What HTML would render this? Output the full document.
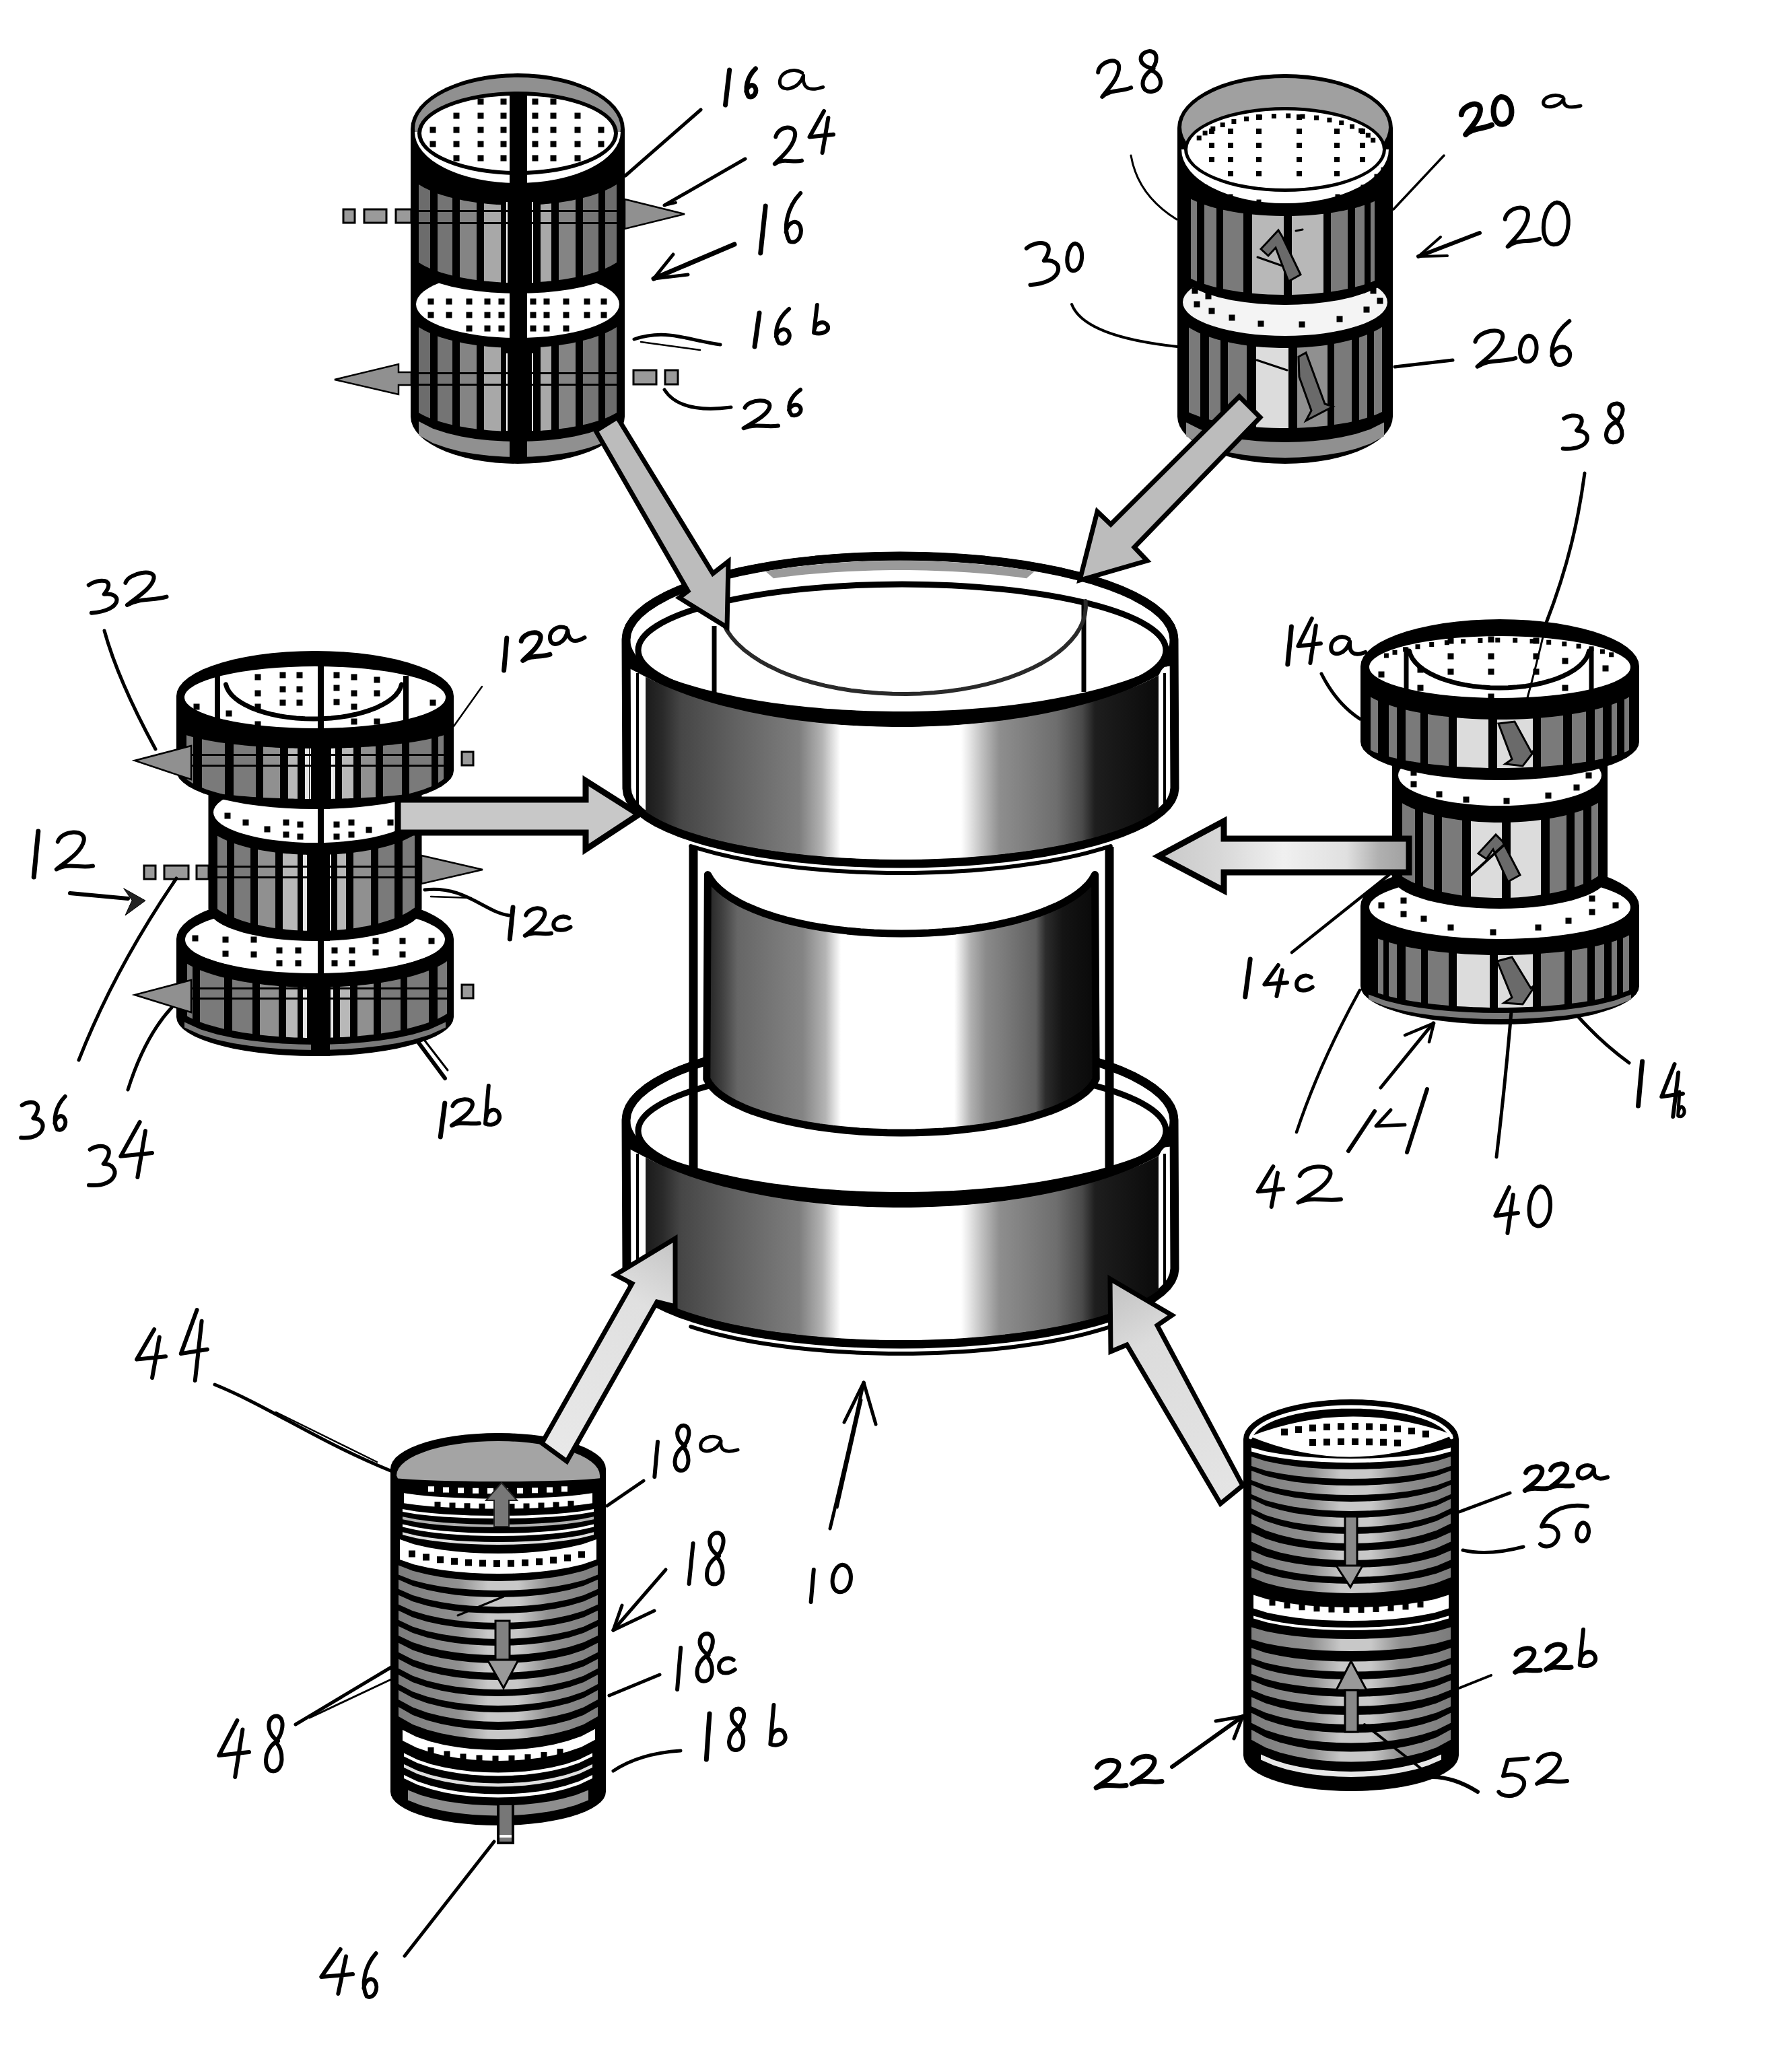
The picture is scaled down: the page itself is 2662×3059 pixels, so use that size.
<!DOCTYPE html>
<html><head><meta charset="utf-8"><title>Figure</title>
<style>html,body{margin:0;padding:0;background:#fff;font-family:"Liberation Sans",sans-serif}svg{display:block}</style></head><body>
<svg width="2662" height="3059" viewBox="0 0 2662 3059">
<defs>
<linearGradient id="gband" gradientUnits="userSpaceOnUse" x1="958" y1="0" x2="1722" y2="0"><stop offset="0.0000" stop-color="#1a1a1a"/><stop offset="0.0350" stop-color="#2a2a2a"/><stop offset="0.0700" stop-color="#464646"/><stop offset="0.1800" stop-color="#626262"/><stop offset="0.3000" stop-color="#7e7e7e"/><stop offset="0.3450" stop-color="#b4b4b4"/><stop offset="0.3800" stop-color="#ffffff"/><stop offset="0.6150" stop-color="#ffffff"/><stop offset="0.6550" stop-color="#c0c0c0"/><stop offset="0.6900" stop-color="#8e8e8e"/><stop offset="0.8000" stop-color="#6e6e6e"/><stop offset="0.8500" stop-color="#4a4a4a"/><stop offset="0.8750" stop-color="#1e1e1e"/><stop offset="1.0000" stop-color="#0a0a0a"/></linearGradient>
<linearGradient id="gmid" gradientUnits="userSpaceOnUse" x1="1056" y1="0" x2="1624" y2="0"><stop offset="0.0000" stop-color="#2a2a2a"/><stop offset="0.0300" stop-color="#404040"/><stop offset="0.0700" stop-color="#666666"/><stop offset="0.2400" stop-color="#848484"/><stop offset="0.3000" stop-color="#b4b4b4"/><stop offset="0.3400" stop-color="#ffffff"/><stop offset="0.6370" stop-color="#ffffff"/><stop offset="0.6800" stop-color="#b0b0b0"/><stop offset="0.7200" stop-color="#8a8a8a"/><stop offset="0.8500" stop-color="#606060"/><stop offset="0.8750" stop-color="#2c2c2c"/><stop offset="0.9200" stop-color="#141414"/><stop offset="1.0000" stop-color="#0a0a0a"/></linearGradient>
<clipPath id="bc1"><path d="M617 192 L617.8 183.3 L620.3 174.7 L624.4 166.4 L630.1 158.2 L637.4 150.5 L646 143.2 L656 136.5 L667.3 130.3 L679.7 124.9 L693 120.1 L707.2 116.2 L722 113.1 L737.4 110.8 L753.1 109.5 L769 109 L784.9 109.5 L800.6 110.8 L816 113.1 L830.8 116.2 L845 120.1 L858.3 124.9 L870.7 130.3 L882 136.5 L892 143.2 L900.6 150.5 L907.9 158.2 L913.6 166.4 L917.7 174.7 L920.2 183.3 L921 192 L921 617 L920.2 623.7 L917.7 630.3 L913.6 636.8 L907.9 643 L900.6 649 L892 654.6 L882 659.8 L870.7 664.6 L858.3 668.8 L845 672.4 L830.8 675.5 L816 677.9 L800.6 679.6 L784.9 680.6 L769 681 L753.1 680.6 L737.4 679.6 L722 677.9 L707.2 675.5 L693 672.4 L679.7 668.8 L667.3 664.6 L656 659.8 L646 654.6 L637.4 649 L630.1 643 L624.4 636.8 L620.3 630.3 L617.8 623.7 L617 617Z"/></clipPath>
<clipPath id="c16low"><rect x="600" y="196" width="340" height="100"/></clipPath>
<clipPath id="bc2"><path d="M1756 190 L1756.8 181.6 L1759.3 173.4 L1763.5 165.3 L1769.2 157.5 L1776.5 150 L1785.2 143 L1795.3 136.5 L1806.6 130.5 L1819.1 125.3 L1832.5 120.7 L1846.8 116.9 L1861.7 113.9 L1877.2 111.7 L1893 110.4 L1909 110 L1925 110.4 L1940.8 111.7 L1956.3 113.9 L1971.2 116.9 L1985.5 120.7 L1998.9 125.3 L2011.4 130.5 L2022.7 136.5 L2032.8 143 L2041.5 150 L2048.8 157.5 L2054.5 165.3 L2058.7 173.4 L2061.2 181.6 L2062 190 L2062 617 L2061.2 623.7 L2058.7 630.3 L2054.5 636.8 L2048.8 643 L2041.5 649 L2032.8 654.6 L2022.7 659.8 L2011.4 664.6 L1998.9 668.8 L1985.5 672.4 L1971.2 675.5 L1956.3 677.9 L1940.8 679.6 L1925 680.6 L1909 681 L1893 680.6 L1877.2 679.6 L1861.7 677.9 L1846.8 675.5 L1832.5 672.4 L1819.1 668.8 L1806.6 664.6 L1795.3 659.8 L1785.2 654.6 L1776.5 649 L1769.2 643 L1763.5 636.8 L1759.3 630.3 L1756.8 623.7 L1756 617Z"/></clipPath>
<clipPath id="c20low"><rect x="1740" y="222" width="340" height="100"/></clipPath>
<clipPath id="bc3"><path d="M269 1395 L270.1 1387.9 L273.3 1380.9 L278.7 1374 L286.2 1367.3 L295.7 1361 L307 1355 L320.1 1349.5 L334.8 1344.5 L351 1340 L368.5 1336.1 L387.1 1332.9 L406.5 1330.3 L426.6 1328.5 L447.2 1327.4 L468 1327 L488.8 1327.4 L509.4 1328.5 L529.5 1330.3 L548.9 1332.9 L567.5 1336.1 L585 1340 L601.2 1344.5 L615.9 1349.5 L629 1355 L640.3 1361 L649.8 1367.3 L657.3 1374 L662.7 1380.9 L665.9 1387.9 L667 1395 L667 1509 L665.9 1514.4 L662.7 1519.8 L657.3 1525.1 L649.8 1530.2 L640.3 1535 L629 1539.6 L615.9 1543.8 L601.2 1547.6 L585 1551.1 L567.5 1554 L548.9 1556.5 L529.5 1558.5 L509.4 1559.9 L488.8 1560.7 L468 1561 L447.2 1560.7 L426.6 1559.9 L406.5 1558.5 L387.1 1556.5 L368.5 1554 L351 1551.1 L334.8 1547.6 L320.1 1543.8 L307 1539.6 L295.7 1535 L286.2 1530.2 L278.7 1525.1 L273.3 1519.8 L270.1 1514.4 L269 1509Z"/></clipPath>
<clipPath id="bc4"><path d="M269 1034 L270.1 1027 L273.3 1020.1 L278.7 1013.3 L286.2 1006.7 L295.7 1000.5 L307 994.6 L320.1 989.2 L334.8 984.2 L351 979.8 L368.5 976 L387.1 972.8 L406.5 970.3 L426.6 968.5 L447.2 967.4 L468 967 L488.8 967.4 L509.4 968.5 L529.5 970.3 L548.9 972.8 L567.5 976 L585 979.8 L601.2 984.2 L615.9 989.2 L629 994.6 L640.3 1000.5 L649.8 1006.7 L657.3 1013.3 L662.7 1020.1 L665.9 1027 L667 1034 L667 1143 L665.9 1148.3 L662.7 1153.6 L657.3 1158.8 L649.8 1163.7 L640.3 1168.5 L629 1173 L615.9 1177.1 L601.2 1180.9 L585 1184.3 L567.5 1187.2 L548.9 1189.6 L529.5 1191.5 L509.4 1192.9 L488.8 1193.7 L468 1194 L447.2 1193.7 L426.6 1192.9 L406.5 1191.5 L387.1 1189.6 L368.5 1187.2 L351 1184.3 L334.8 1180.9 L320.1 1177.1 L307 1173 L295.7 1168.5 L286.2 1163.7 L278.7 1158.8 L273.3 1153.6 L270.1 1148.3 L269 1143Z"/></clipPath>
<clipPath id="bc5"><path d="M2028 1346 L2029.1 1338.9 L2032.4 1331.9 L2037.8 1325 L2045.3 1318.3 L2054.8 1312 L2066.2 1306 L2079.4 1300.5 L2094.2 1295.5 L2110.4 1291 L2128 1287.1 L2146.7 1283.9 L2166.2 1281.3 L2186.4 1279.5 L2207.1 1278.4 L2228 1278 L2248.9 1278.4 L2269.6 1279.5 L2289.8 1281.3 L2309.3 1283.9 L2328 1287.1 L2345.6 1291 L2361.8 1295.5 L2376.6 1300.5 L2389.8 1306 L2401.2 1312 L2410.7 1318.3 L2418.2 1325 L2423.6 1331.9 L2426.9 1338.9 L2428 1346 L2428 1463 L2426.9 1468.3 L2423.6 1473.6 L2418.2 1478.8 L2410.7 1483.7 L2401.2 1488.5 L2389.8 1493 L2376.6 1497.1 L2361.8 1500.9 L2345.6 1504.3 L2328 1507.2 L2309.3 1509.6 L2289.8 1511.5 L2269.6 1512.9 L2248.9 1513.7 L2228 1514 L2207.1 1513.7 L2186.4 1512.9 L2166.2 1511.5 L2146.7 1509.6 L2128 1507.2 L2110.4 1504.3 L2094.2 1500.9 L2079.4 1497.1 L2066.2 1493 L2054.8 1488.5 L2045.3 1483.7 L2037.8 1478.8 L2032.4 1473.6 L2029.1 1468.3 L2028 1463Z"/></clipPath>
<clipPath id="bc6"><path d="M2028 990 L2029.1 982.7 L2032.4 975.4 L2037.8 968.4 L2045.3 961.5 L2054.8 955 L2066.2 948.9 L2079.4 943.2 L2094.2 938 L2110.4 933.4 L2128 929.4 L2146.7 926.1 L2166.2 923.4 L2186.4 921.5 L2207.1 920.4 L2228 920 L2248.9 920.4 L2269.6 921.5 L2289.8 923.4 L2309.3 926.1 L2328 929.4 L2345.6 933.4 L2361.8 938 L2376.6 943.2 L2389.8 948.9 L2401.2 955 L2410.7 961.5 L2418.2 968.4 L2423.6 975.4 L2426.9 982.7 L2428 990 L2428 1100 L2426.9 1105.3 L2423.6 1110.6 L2418.2 1115.8 L2410.7 1120.7 L2401.2 1125.5 L2389.8 1130 L2376.6 1134.1 L2361.8 1137.9 L2345.6 1141.3 L2328 1144.2 L2309.3 1146.6 L2289.8 1148.5 L2269.6 1149.9 L2248.9 1150.7 L2228 1151 L2207.1 1150.7 L2186.4 1149.9 L2166.2 1148.5 L2146.7 1146.6 L2128 1144.2 L2110.4 1141.3 L2094.2 1137.9 L2079.4 1134.1 L2066.2 1130 L2054.8 1125.5 L2045.3 1120.7 L2037.8 1115.8 L2032.4 1110.6 L2029.1 1105.3 L2028 1100Z"/></clipPath>
<linearGradient id="gs18" gradientUnits="userSpaceOnUse" x1="592" y1="0" x2="888" y2="0"><stop offset="0.0000" stop-color="#7c7c7c"/><stop offset="0.3000" stop-color="#909090"/><stop offset="0.4500" stop-color="#c8c8c8"/><stop offset="0.6000" stop-color="#c8c8c8"/><stop offset="0.7500" stop-color="#909090"/><stop offset="1.0000" stop-color="#7c7c7c"/></linearGradient>
<linearGradient id="gs22" gradientUnits="userSpaceOnUse" x1="1859" y1="0" x2="2155" y2="0"><stop offset="0.0000" stop-color="#7c7c7c"/><stop offset="0.3000" stop-color="#909090"/><stop offset="0.4500" stop-color="#c8c8c8"/><stop offset="0.6000" stop-color="#c8c8c8"/><stop offset="0.7500" stop-color="#909090"/><stop offset="1.0000" stop-color="#7c7c7c"/></linearGradient>
<clipPath id="bc7"><path d="M587 2182 L587.8 2176.5 L590.3 2171 L594.5 2165.6 L600.2 2160.4 L607.5 2155.5 L616.2 2150.8 L626.3 2146.5 L637.6 2142.6 L650.1 2139.1 L663.5 2136.1 L677.8 2133.6 L692.7 2131.6 L708.2 2130.2 L724 2129.3 L740 2129 L756 2129.3 L771.8 2130.2 L787.3 2131.6 L802.2 2133.6 L816.5 2136.1 L829.9 2139.1 L842.4 2142.6 L853.7 2146.5 L863.8 2150.8 L872.5 2155.5 L879.8 2160.4 L885.5 2165.6 L889.7 2171 L892.2 2176.5 L893 2182 L893 2660 L892.2 2664.6 L889.7 2669.1 L885.5 2673.6 L879.8 2677.9 L872.5 2682 L863.8 2685.9 L853.7 2689.4 L842.4 2692.7 L829.9 2695.6 L816.5 2698.1 L802.2 2700.2 L787.3 2701.8 L771.8 2703 L756 2703.8 L740 2704 L724 2703.8 L708.2 2703 L692.7 2701.8 L677.8 2700.2 L663.5 2698.1 L650.1 2695.6 L637.6 2692.7 L626.3 2689.4 L616.2 2685.9 L607.5 2682 L600.2 2677.9 L594.5 2673.6 L590.3 2669.1 L587.8 2664.6 L587 2660Z"/></clipPath>
<clipPath id="bc8"><path d="M1854 2138 L1854.8 2131.8 L1857.3 2125.7 L1861.5 2119.8 L1867.2 2114 L1874.5 2108.5 L1883.2 2103.3 L1893.3 2098.5 L1904.6 2094.2 L1917.1 2090.3 L1930.5 2086.9 L1944.8 2084.1 L1959.7 2081.9 L1975.2 2080.3 L1991 2079.3 L2007 2079 L2023 2079.3 L2038.8 2080.3 L2054.3 2081.9 L2069.2 2084.1 L2083.5 2086.9 L2096.9 2090.3 L2109.4 2094.2 L2120.7 2098.5 L2130.8 2103.3 L2139.5 2108.5 L2146.8 2114 L2152.5 2119.8 L2156.7 2125.7 L2159.2 2131.8 L2160 2138 L2160 2606 L2159.2 2610.9 L2156.7 2615.8 L2152.5 2620.5 L2146.8 2625.1 L2139.5 2629.5 L2130.8 2633.6 L2120.7 2637.4 L2109.4 2640.9 L2096.9 2644 L2083.5 2646.7 L2069.2 2648.9 L2054.3 2650.7 L2038.8 2652 L2023 2652.7 L2007 2653 L1991 2652.7 L1975.2 2652 L1959.7 2650.7 L1944.8 2648.9 L1930.5 2646.7 L1917.1 2644 L1904.6 2640.9 L1893.3 2637.4 L1883.2 2633.6 L1874.5 2629.5 L1867.2 2625.1 L1861.5 2620.5 L1857.3 2615.8 L1854.8 2610.9 L1854 2606Z"/></clipPath>
<linearGradient id="garrD" gradientUnits="userSpaceOnUse" x1="1721" y1="0" x2="2093" y2="0"><stop offset="0.0000" stop-color="#c8c8c8"/><stop offset="0.2500" stop-color="#d8d8d8"/><stop offset="0.5000" stop-color="#f0f0f0"/><stop offset="0.7500" stop-color="#e0e0e0"/><stop offset="0.8800" stop-color="#b0b0b0"/><stop offset="1.0000" stop-color="#a0a0a0"/></linearGradient>
<linearGradient id="garrE" gradientUnits="userSpaceOnUse" x1="1003" y1="1840" x2="823" y2="2158"><stop offset="0" stop-color="#c4c4c4"/><stop offset="0.3" stop-color="#e0e0e0"/><stop offset="1" stop-color="#e8e8e8"/></linearGradient>
<linearGradient id="garrF" gradientUnits="userSpaceOnUse" x1="1649" y1="1900" x2="1830" y2="2220"><stop offset="0" stop-color="#c0c0c0"/><stop offset="0.3" stop-color="#dcdcdc"/><stop offset="1" stop-color="#e4e4e4"/></linearGradient>
</defs>
<rect x="0" y="0" width="2662" height="3059" fill="#fff"/>
<g id="center">
<path d="M930 1664 L931.3 1654.3 L935 1644.6 L941.2 1635.1 L949.9 1625.7 L961 1616.5 L974.4 1607.7 L990 1599.2 L1007.7 1591.1 L1027.5 1583.5 L1049.2 1576.3 L1072.7 1569.7 L1097.8 1563.7 L1124.3 1558.3 L1152.2 1553.5 L1181.2 1549.4 L1211.2 1546.1 L1242 1543.4 L1273.3 1541.5 L1305.1 1540.4 L1337 1540 L1368.9 1540.4 L1400.7 1541.5 L1432 1543.4 L1462.8 1546.1 L1492.8 1549.4 L1521.8 1553.5 L1549.7 1558.3 L1576.2 1563.7 L1601.3 1569.7 L1624.8 1576.3 L1646.5 1583.5 L1666.3 1591.1 L1684 1599.2 L1699.6 1607.7 L1713 1616.5 L1724.1 1625.7 L1732.8 1635.1 L1739 1644.6 L1742.7 1654.3 L1744 1664 L1745 1885 L1743.7 1893.8 L1740 1902.5 L1733.8 1911.1 L1725.1 1919.6 L1714 1927.9 L1700.6 1935.8 L1685 1943.5 L1667.3 1950.8 L1647.5 1957.7 L1625.8 1964.2 L1602.3 1970.2 L1577.2 1975.6 L1550.7 1980.5 L1522.8 1984.8 L1493.8 1988.5 L1463.8 1991.5 L1433 1993.9 L1401.7 1995.6 L1369.9 1996.7 L1338 1997 L1306.1 1996.7 L1274.3 1995.6 L1243 1993.9 L1212.2 1991.5 L1182.2 1988.5 L1153.2 1984.8 L1125.3 1980.5 L1098.8 1975.6 L1073.7 1970.2 L1050.2 1964.2 L1028.5 1957.7 L1008.7 1950.8 L991 1943.5 L975.4 1935.8 L962 1927.9 L950.9 1919.6 L942.2 1911.1 L936 1902.5 L932.3 1893.8 L931 1885Z" fill="#fff" stroke="#000" stroke-width="13" stroke-linejoin="round"/>
<polyline points="1649.8,1971 1638.1,1974.7 1625.8,1978.2 1613,1981.6 1599.6,1984.8 1585.8,1987.9 1571.4,1990.7 1556.7,1993.5 1541.5,1996 1525.9,1998.3 1510,2000.5 1493.8,2002.5 1477.2,2004.2 1460.4,2005.8 1443.3,2007.2 1426.1,2008.3 1408.7,2009.3 1391.1,2010 1373.5,2010.6 1355.8,2010.9 1338,2011 1320.2,2010.9 1302.5,2010.6 1284.9,2010 1267.3,2009.3 1249.9,2008.3 1232.7,2007.2 1215.6,2005.8 1198.8,2004.2 1182.2,2002.5 1166,2000.5 1150.1,1998.3 1134.5,1996 1119.3,1993.5 1104.6,1990.7 1090.2,1987.9 1076.4,1984.8 1063,1981.6 1050.2,1978.2 1037.9,1974.7 1026.2,1971" fill="none" stroke="#000" stroke-width="6" stroke-linecap="round" stroke-linejoin="round" />
<line x1="947" y1="1714" x2="947" y2="1919" stroke="#000" stroke-width="4"/>
<line x1="1730" y1="1714" x2="1730" y2="1914" stroke="#000" stroke-width="4"/>
<ellipse cx="1337" cy="1664" rx="407" ry="124" fill="none" stroke="#000" stroke-width="12" />
<ellipse cx="1340" cy="1680" rx="392" ry="98" fill="#fff" stroke="#000" stroke-width="9" />
<line x1="1030" y1="1258" x2="1030" y2="1745" stroke="#000" stroke-width="13"/>
<line x1="1648" y1="1258" x2="1648" y2="1735" stroke="#000" stroke-width="13"/>
<path d="M1051.4 1299.4 L1055.7 1306.6 L1061.3 1313.8 L1068.3 1320.7 L1076.6 1327.5 L1086.1 1334 L1096.9 1340.3 L1108.9 1346.3 L1122 1351.9 L1136.2 1357.3 L1151.3 1362.2 L1167.4 1366.8 L1184.3 1370.9 L1201.9 1374.6 L1220.2 1377.8 L1239.1 1380.6 L1258.5 1382.9 L1278.3 1384.7 L1298.4 1386 L1318.6 1386.7 L1339 1387 L1359.4 1386.7 L1379.6 1386 L1399.7 1384.7 L1419.5 1382.9 L1438.9 1380.6 L1457.8 1377.8 L1476.1 1374.6 L1493.7 1370.9 L1510.6 1366.8 L1526.7 1362.2 L1541.8 1357.3 L1556 1351.9 L1569.1 1346.3 L1581.1 1340.3 L1591.9 1334 L1601.4 1327.5 L1609.7 1320.7 L1616.7 1313.8 L1622.3 1306.6 L1626.6 1299.4 L1628.2 1602.9 L1624.5 1609.5 L1619.4 1615.9 L1612.9 1622.3 L1604.9 1628.4 L1595.6 1634.4 L1585 1640.1 L1573.1 1645.6 L1560 1650.8 L1545.8 1655.6 L1530.6 1660.2 L1514.3 1664.4 L1497.2 1668.2 L1479.2 1671.6 L1460.6 1674.6 L1441.3 1677.1 L1421.4 1679.2 L1401.2 1680.9 L1380.6 1682 L1359.9 1682.8 L1339 1683 L1318.1 1682.8 L1297.4 1682 L1276.8 1680.9 L1256.6 1679.2 L1236.7 1677.1 L1217.4 1674.6 L1198.8 1671.6 L1180.8 1668.2 L1163.7 1664.4 L1147.4 1660.2 L1132.2 1655.6 L1118 1650.8 L1104.9 1645.6 L1093 1640.1 L1082.4 1634.4 L1073.1 1628.4 L1065.1 1622.3 L1058.6 1615.9 L1053.5 1609.5 L1049.8 1602.9Z" fill="url(#gmid)" stroke="#000" stroke-width="11" stroke-linejoin="round"/>
<path d="M959 1707.3 L971.7 1713 L984.4 1718.2 L997.1 1722.9 L1009.8 1727.3 L1022.5 1731.3 L1035.2 1735 L1047.9 1738.4 L1060.6 1741.6 L1073.3 1744.6 L1086 1747.3 L1098.7 1749.9 L1111.4 1752.3 L1124.1 1754.5 L1136.8 1756.5 L1149.5 1758.4 L1162.2 1760.1 L1174.9 1761.7 L1187.6 1763.1 L1200.3 1764.4 L1213 1765.6 L1225.7 1766.7 L1238.4 1767.6 L1251.1 1768.4 L1263.8 1769.1 L1276.5 1769.7 L1289.2 1770.2 L1301.9 1770.6 L1314.6 1770.8 L1327.3 1771 L1340 1771 L1352.7 1770.9 L1365.4 1770.7 L1378.1 1770.5 L1390.8 1770.1 L1403.5 1769.5 L1416.2 1768.9 L1428.9 1768.2 L1441.6 1767.3 L1454.3 1766.3 L1467 1765.2 L1479.7 1764 L1492.4 1762.7 L1505.1 1761.2 L1517.8 1759.6 L1530.5 1757.8 L1543.2 1755.9 L1555.9 1753.8 L1568.6 1751.5 L1581.3 1749.1 L1594 1746.5 L1606.7 1743.7 L1619.4 1740.7 L1632.1 1737.4 L1644.8 1733.9 L1657.5 1730.1 L1670.2 1725.9 L1682.9 1721.5 L1695.6 1716.6 L1708.3 1711.3 L1721 1705.4 L1739 1703.5 L1739 1685.4 L1721 1717.5 L1708.3 1724.1 L1695.6 1730.1 L1682.9 1735.6 L1670.2 1740.7 L1657.5 1745.5 L1644.8 1749.9 L1632.1 1754 L1619.4 1757.8 L1606.7 1761.3 L1594 1764.6 L1581.3 1767.7 L1568.6 1770.6 L1555.9 1773.3 L1543.2 1775.7 L1530.5 1778 L1517.8 1780.2 L1505.1 1782.1 L1492.4 1783.9 L1479.7 1785.5 L1467 1787 L1454.3 1788.3 L1441.6 1789.5 L1428.9 1790.6 L1416.2 1791.5 L1403.5 1792.2 L1390.8 1792.8 L1378.1 1793.3 L1365.4 1793.7 L1352.7 1793.9 L1340 1794 L1327.3 1794 L1314.6 1793.8 L1301.9 1793.5 L1289.2 1793 L1276.5 1792.4 L1263.8 1791.7 L1251.1 1790.9 L1238.4 1789.9 L1225.7 1788.7 L1213 1787.4 L1200.3 1786 L1187.6 1784.4 L1174.9 1782.7 L1162.2 1780.8 L1149.5 1778.7 L1136.8 1776.5 L1124.1 1774.1 L1111.4 1771.5 L1098.7 1768.6 L1086 1765.6 L1073.3 1762.4 L1060.6 1758.9 L1047.9 1755.2 L1035.2 1751.2 L1022.5 1746.9 L1009.8 1742.3 L997.1 1737.3 L984.4 1731.9 L971.7 1726 L959 1719.6 L936 1707.6 L936 1689.3Z" fill="#000"/>
<path d="M959 1719.6 L971.7 1726 L984.4 1731.9 L997.1 1737.3 L1009.8 1742.3 L1022.5 1746.9 L1035.2 1751.2 L1047.9 1755.2 L1060.6 1758.9 L1073.3 1762.4 L1086 1765.6 L1098.7 1768.6 L1111.4 1771.5 L1124.1 1774.1 L1136.8 1776.5 L1149.5 1778.7 L1162.2 1780.8 L1174.9 1782.7 L1187.6 1784.4 L1200.3 1786 L1213 1787.4 L1225.7 1788.7 L1238.4 1789.9 L1251.1 1790.9 L1263.8 1791.7 L1276.5 1792.4 L1289.2 1793 L1301.9 1793.5 L1314.6 1793.8 L1327.3 1794 L1340 1794 L1352.7 1793.9 L1365.4 1793.7 L1378.1 1793.3 L1390.8 1792.8 L1403.5 1792.2 L1416.2 1791.5 L1428.9 1790.6 L1441.6 1789.5 L1454.3 1788.3 L1467 1787 L1479.7 1785.5 L1492.4 1783.9 L1505.1 1782.1 L1517.8 1780.2 L1530.5 1778 L1543.2 1775.7 L1555.9 1773.3 L1568.6 1770.6 L1581.3 1767.7 L1594 1764.6 L1606.7 1761.3 L1619.4 1757.8 L1632.1 1754 L1644.8 1749.9 L1657.5 1745.5 L1670.2 1740.7 L1682.9 1735.6 L1695.6 1730.1 L1708.3 1724.1 L1721 1717.5 L1721 1916.9 L1708.3 1925.5 L1695.6 1932.5 L1682.9 1938.5 L1670.2 1943.7 L1657.5 1948.4 L1644.8 1952.6 L1632.1 1956.4 L1619.4 1959.9 L1606.7 1963.1 L1594 1966.1 L1581.3 1968.8 L1568.6 1971.3 L1555.9 1973.6 L1543.2 1975.7 L1530.5 1977.7 L1517.8 1979.5 L1505.1 1981.1 L1492.4 1982.6 L1479.7 1984 L1467 1985.2 L1454.3 1986.3 L1441.6 1987.3 L1428.9 1988.2 L1416.2 1988.9 L1403.5 1989.5 L1390.8 1990.1 L1378.1 1990.5 L1365.4 1990.7 L1352.7 1990.9 L1340 1991 L1327.3 1991 L1314.6 1990.8 L1301.9 1990.6 L1289.2 1990.2 L1276.5 1989.7 L1263.8 1989.1 L1251.1 1988.4 L1238.4 1987.6 L1225.7 1986.7 L1213 1985.6 L1200.3 1984.4 L1187.6 1983.1 L1174.9 1981.6 L1162.2 1980 L1149.5 1978.3 L1136.8 1976.4 L1124.1 1974.3 L1111.4 1972 L1098.7 1969.6 L1086 1966.9 L1073.3 1964.1 L1060.6 1961 L1047.9 1957.6 L1035.2 1953.8 L1022.5 1949.8 L1009.8 1945.2 L997.1 1940.2 L984.4 1934.5 L971.7 1927.8 L959 1919.8Z" fill="url(#gband)"/>
<path d="M930 950 L931.3 940.3 L935 930.6 L941.2 921.1 L949.9 911.7 L961 902.5 L974.4 893.7 L990 885.2 L1007.7 877.1 L1027.5 869.5 L1049.2 862.3 L1072.7 855.7 L1097.8 849.7 L1124.3 844.3 L1152.2 839.5 L1181.2 835.4 L1211.2 832.1 L1242 829.4 L1273.3 827.5 L1305.1 826.4 L1337 826 L1368.9 826.4 L1400.7 827.5 L1432 829.4 L1462.8 832.1 L1492.8 835.4 L1521.8 839.5 L1549.7 844.3 L1576.2 849.7 L1601.3 855.7 L1624.8 862.3 L1646.5 869.5 L1666.3 877.1 L1684 885.2 L1699.6 893.7 L1713 902.5 L1724.1 911.7 L1732.8 921.1 L1739 930.6 L1742.7 940.3 L1744 950 L1745 1171 L1743.7 1179.8 L1740 1188.5 L1733.8 1197.1 L1725.1 1205.6 L1714 1213.9 L1700.6 1221.8 L1685 1229.5 L1667.3 1236.8 L1647.5 1243.7 L1625.8 1250.2 L1602.3 1256.2 L1577.2 1261.6 L1550.7 1266.5 L1522.8 1270.8 L1493.8 1274.5 L1463.8 1277.5 L1433 1279.9 L1401.7 1281.6 L1369.9 1282.7 L1338 1283 L1306.1 1282.7 L1274.3 1281.6 L1243 1279.9 L1212.2 1277.5 L1182.2 1274.5 L1153.2 1270.8 L1125.3 1266.5 L1098.8 1261.6 L1073.7 1256.2 L1050.2 1250.2 L1028.5 1243.7 L1008.7 1236.8 L991 1229.5 L975.4 1221.8 L962 1213.9 L950.9 1205.6 L942.2 1197.1 L936 1188.5 L932.3 1179.8 L931 1171Z" fill="#fff" stroke="#000" stroke-width="13" stroke-linejoin="round"/>
<polyline points="1649.8,1257 1638.1,1260.7 1625.8,1264.2 1613,1267.6 1599.6,1270.8 1585.8,1273.9 1571.4,1276.7 1556.7,1279.5 1541.5,1282 1525.9,1284.3 1510,1286.5 1493.8,1288.5 1477.2,1290.2 1460.4,1291.8 1443.3,1293.2 1426.1,1294.3 1408.7,1295.3 1391.1,1296 1373.5,1296.6 1355.8,1296.9 1338,1297 1320.2,1296.9 1302.5,1296.6 1284.9,1296 1267.3,1295.3 1249.9,1294.3 1232.7,1293.2 1215.6,1291.8 1198.8,1290.2 1182.2,1288.5 1166,1286.5 1150.1,1284.3 1134.5,1282 1119.3,1279.5 1104.6,1276.7 1090.2,1273.9 1076.4,1270.8 1063,1267.6 1050.2,1264.2 1037.9,1260.7 1026.2,1257" fill="none" stroke="#000" stroke-width="6" stroke-linecap="round" stroke-linejoin="round" />
<line x1="947" y1="1000" x2="947" y2="1205" stroke="#000" stroke-width="4"/>
<line x1="1730" y1="1000" x2="1730" y2="1200" stroke="#000" stroke-width="4"/>
<ellipse cx="1337" cy="950" rx="407" ry="124" fill="none" stroke="#000" stroke-width="12" />
<ellipse cx="1340" cy="966" rx="392" ry="98" fill="#fff" stroke="#000" stroke-width="9" />
<path d="M1137 848.7 L1149.2 846.7 L1161.7 844.8 L1174.3 843.1 L1187.2 841.5 L1200.2 840.1 L1213.4 838.7 L1226.7 837.5 L1240.2 836.5 L1253.8 835.6 L1267.5 834.8 L1281.3 834.1 L1295.2 833.6 L1309.1 833.3 L1323 833.1 L1337 833 L1351 833.1 L1364.9 833.3 L1378.8 833.6 L1392.7 834.1 L1406.5 834.8 L1420.2 835.6 L1433.8 836.5 L1447.3 837.5 L1460.6 838.7 L1473.8 840.1 L1486.8 841.5 L1499.7 843.1 L1512.3 844.8 L1524.8 846.7 L1537 848.7 L1524.8 859.2 L1513.2 857.6 L1501.4 856.2 L1489.4 854.8 L1477.3 853.6 L1465 852.5 L1452.6 851.4 L1440.1 850.5 L1427.4 849.7 L1414.7 849 L1401.9 848.4 L1389 847.9 L1376 847.5 L1363 847.2 L1350 847.1 L1337 847 L1324 847.1 L1311 847.2 L1298 847.5 L1285 847.9 L1272.1 848.4 L1259.3 849 L1246.6 849.7 L1233.9 850.5 L1221.4 851.4 L1209 852.5 L1196.7 853.6 L1184.6 854.8 L1172.6 856.2 L1160.8 857.6 L1149.2 859.2Z" fill="#9a9a9a"/>
<line x1="1061" y1="930" x2="1061" y2="1034" stroke="#000" stroke-width="7"/>
<line x1="1610" y1="892" x2="1610" y2="1028" stroke="#000" stroke-width="7"/>
<polyline points="1612.6,893.1 1612.9,903.1 1611.6,913.1 1608.8,923 1604.3,932.8 1598.4,942.4 1590.9,951.7 1582,960.7 1571.7,969.4 1560,977.7 1547.1,985.5 1532.9,992.8 1517.6,999.6 1501.4,1005.8 1484.1,1011.4 1466.1,1016.3 1447.3,1020.6 1427.9,1024.1 1408,1027 1387.6,1029.1 1367.1,1030.4 1346.3,1031 1325.6,1030.8 1304.9,1029.8 1284.4,1028.1 1264.3,1025.7 1244.6,1022.5 1225.5,1018.6 1207.1,1014 1189.4,1008.8 1172.6,1002.9 1156.8,996.4 1142.1,989.3 1128.5,981.8 1116.2,973.7 1105.1,965.3 1095.5,956.4 1087.3,947.2 1080.5,937.8 1075.3,928.1 1071.6,918.2" fill="none" stroke="#2a2a2a" stroke-width="6" stroke-linecap="round" stroke-linejoin="round" />
<path d="M959 993.3 L971.7 999 L984.4 1004.2 L997.1 1008.9 L1009.8 1013.3 L1022.5 1017.3 L1035.2 1021 L1047.9 1024.4 L1060.6 1027.6 L1073.3 1030.6 L1086 1033.3 L1098.7 1035.9 L1111.4 1038.3 L1124.1 1040.5 L1136.8 1042.5 L1149.5 1044.4 L1162.2 1046.1 L1174.9 1047.7 L1187.6 1049.1 L1200.3 1050.4 L1213 1051.6 L1225.7 1052.7 L1238.4 1053.6 L1251.1 1054.4 L1263.8 1055.1 L1276.5 1055.7 L1289.2 1056.2 L1301.9 1056.6 L1314.6 1056.8 L1327.3 1057 L1340 1057 L1352.7 1056.9 L1365.4 1056.7 L1378.1 1056.5 L1390.8 1056.1 L1403.5 1055.5 L1416.2 1054.9 L1428.9 1054.2 L1441.6 1053.3 L1454.3 1052.3 L1467 1051.2 L1479.7 1050 L1492.4 1048.7 L1505.1 1047.2 L1517.8 1045.6 L1530.5 1043.8 L1543.2 1041.9 L1555.9 1039.8 L1568.6 1037.5 L1581.3 1035.1 L1594 1032.5 L1606.7 1029.7 L1619.4 1026.7 L1632.1 1023.4 L1644.8 1019.9 L1657.5 1016.1 L1670.2 1011.9 L1682.9 1007.5 L1695.6 1002.6 L1708.3 997.3 L1721 991.4 L1739 989.5 L1739 971.4 L1721 1003.5 L1708.3 1010.1 L1695.6 1016.1 L1682.9 1021.6 L1670.2 1026.7 L1657.5 1031.5 L1644.8 1035.9 L1632.1 1040 L1619.4 1043.8 L1606.7 1047.3 L1594 1050.6 L1581.3 1053.7 L1568.6 1056.6 L1555.9 1059.3 L1543.2 1061.7 L1530.5 1064 L1517.8 1066.2 L1505.1 1068.1 L1492.4 1069.9 L1479.7 1071.5 L1467 1073 L1454.3 1074.3 L1441.6 1075.5 L1428.9 1076.6 L1416.2 1077.5 L1403.5 1078.2 L1390.8 1078.8 L1378.1 1079.3 L1365.4 1079.7 L1352.7 1079.9 L1340 1080 L1327.3 1080 L1314.6 1079.8 L1301.9 1079.5 L1289.2 1079 L1276.5 1078.4 L1263.8 1077.7 L1251.1 1076.9 L1238.4 1075.9 L1225.7 1074.7 L1213 1073.4 L1200.3 1072 L1187.6 1070.4 L1174.9 1068.7 L1162.2 1066.8 L1149.5 1064.7 L1136.8 1062.5 L1124.1 1060.1 L1111.4 1057.5 L1098.7 1054.6 L1086 1051.6 L1073.3 1048.4 L1060.6 1044.9 L1047.9 1041.2 L1035.2 1037.2 L1022.5 1032.9 L1009.8 1028.3 L997.1 1023.3 L984.4 1017.9 L971.7 1012 L959 1005.6 L936 993.6 L936 975.3Z" fill="#000"/>
<path d="M959 1005.6 L971.7 1012 L984.4 1017.9 L997.1 1023.3 L1009.8 1028.3 L1022.5 1032.9 L1035.2 1037.2 L1047.9 1041.2 L1060.6 1044.9 L1073.3 1048.4 L1086 1051.6 L1098.7 1054.6 L1111.4 1057.5 L1124.1 1060.1 L1136.8 1062.5 L1149.5 1064.7 L1162.2 1066.8 L1174.9 1068.7 L1187.6 1070.4 L1200.3 1072 L1213 1073.4 L1225.7 1074.7 L1238.4 1075.9 L1251.1 1076.9 L1263.8 1077.7 L1276.5 1078.4 L1289.2 1079 L1301.9 1079.5 L1314.6 1079.8 L1327.3 1080 L1340 1080 L1352.7 1079.9 L1365.4 1079.7 L1378.1 1079.3 L1390.8 1078.8 L1403.5 1078.2 L1416.2 1077.5 L1428.9 1076.6 L1441.6 1075.5 L1454.3 1074.3 L1467 1073 L1479.7 1071.5 L1492.4 1069.9 L1505.1 1068.1 L1517.8 1066.2 L1530.5 1064 L1543.2 1061.7 L1555.9 1059.3 L1568.6 1056.6 L1581.3 1053.7 L1594 1050.6 L1606.7 1047.3 L1619.4 1043.8 L1632.1 1040 L1644.8 1035.9 L1657.5 1031.5 L1670.2 1026.7 L1682.9 1021.6 L1695.6 1016.1 L1708.3 1010.1 L1721 1003.5 L1721 1202.9 L1708.3 1211.5 L1695.6 1218.5 L1682.9 1224.5 L1670.2 1229.7 L1657.5 1234.4 L1644.8 1238.6 L1632.1 1242.4 L1619.4 1245.9 L1606.7 1249.1 L1594 1252.1 L1581.3 1254.8 L1568.6 1257.3 L1555.9 1259.6 L1543.2 1261.7 L1530.5 1263.7 L1517.8 1265.5 L1505.1 1267.1 L1492.4 1268.6 L1479.7 1270 L1467 1271.2 L1454.3 1272.3 L1441.6 1273.3 L1428.9 1274.2 L1416.2 1274.9 L1403.5 1275.5 L1390.8 1276.1 L1378.1 1276.5 L1365.4 1276.7 L1352.7 1276.9 L1340 1277 L1327.3 1277 L1314.6 1276.8 L1301.9 1276.6 L1289.2 1276.2 L1276.5 1275.7 L1263.8 1275.1 L1251.1 1274.4 L1238.4 1273.6 L1225.7 1272.7 L1213 1271.6 L1200.3 1270.4 L1187.6 1269.1 L1174.9 1267.6 L1162.2 1266 L1149.5 1264.3 L1136.8 1262.4 L1124.1 1260.3 L1111.4 1258 L1098.7 1255.6 L1086 1252.9 L1073.3 1250.1 L1060.6 1247 L1047.9 1243.6 L1035.2 1239.8 L1022.5 1235.8 L1009.8 1231.2 L997.1 1226.2 L984.4 1220.5 L971.7 1213.8 L959 1205.8Z" fill="url(#gband)"/>
</g>
<g id="c16">
<path d="M610 192 L610.9 183.3 L613.5 174.7 L617.8 166.4 L623.7 158.2 L631.3 150.5 L640.4 143.2 L650.8 136.5 L662.6 130.3 L675.5 124.9 L689.5 120.1 L704.3 116.2 L719.9 113.1 L735.9 110.8 L752.4 109.5 L769 109 L785.6 109.5 L802.1 110.8 L818.1 113.1 L833.7 116.2 L848.5 120.1 L862.5 124.9 L875.4 130.3 L887.2 136.5 L897.6 143.2 L906.7 150.5 L914.3 158.2 L920.2 166.4 L924.5 174.7 L927.1 183.3 L928 192 L928 619 L927.1 626.3 L924.5 633.6 L920.2 640.6 L914.3 647.5 L906.7 654 L897.6 660.1 L887.2 665.8 L875.4 671 L862.5 675.6 L848.5 679.6 L833.7 682.9 L818.1 685.6 L802.1 687.5 L785.6 688.6 L769 689 L752.4 688.6 L735.9 687.5 L719.9 685.6 L704.3 682.9 L689.5 679.6 L675.5 675.6 L662.6 671 L650.8 665.8 L640.4 660.1 L631.3 654 L623.7 647.5 L617.8 640.6 L613.5 633.6 L610.9 626.3 L610 619Z" fill="#000"/>
<polygon points="622,625.9 643,636.7 664,643.6 685,648.5 706,651.9 727,654.2 748,655.6 769,656 790,655.6 811,654.2 832,651.9 853,648.5 874,643.6 895,636.7 916,625.9 916,646.5 895,658.2 874,665.6 853,670.9 832,674.6 811,677.1 790,678.5 769,679 748,678.5 727,677.1 706,674.6 685,670.9 664,665.6 643,658.2 622,646.5" fill="#909090" />
<polygon points="612,604.5 634.4,618.6 656.9,626.5 679.3,631.9 701.7,635.6 724.1,638.1 746.6,639.5 769,640 791.4,639.5 813.9,638.1 836.3,635.6 858.7,631.9 881.1,626.5 903.6,618.6 926,604.5 926,615 903.6,629.7 881.1,637.9 858.7,643.5 836.3,647.4 813.9,650 791.4,651.5 769,652 746.6,651.5 724.1,650 701.7,647.4 679.3,643.5 656.9,637.9 634.4,629.7 612,615" fill="#000" />
<ellipse cx="769" cy="452" rx="151" ry="50" fill="#fff" stroke="#000" stroke-width="0" />
<polygon points="622,485.9 626.2,488.6 630.5,491 634.8,493.1 639,495.1 639,621.4 634.8,619.7 630.5,617.7 626.2,615.6 622,613.2" fill="#6c6c6c" />
<polygon points="650,499.5 655.5,501.4 661,503.1 666.5,504.7 672,506.1 672,631.3 666.5,630 661,628.6 655.5,627 650,625.3" fill="#747474" />
<polygon points="683,508.6 689.2,509.9 695.5,511 701.8,512.1 708,513 708,637.4 701.8,636.6 695.5,635.7 689.2,634.6 683,633.5" fill="#848484" />
<polygon points="719,514.3 725.2,515 731.5,515.5 737.8,516 744,516.3 744,640.4 737.8,640.1 731.5,639.7 725.2,639.2 719,638.6" fill="#a8a8a8" />
<polygon points="803,515.8 807,515.5 811,515.1 815,514.7 819,514.3 819,638.6 815,639 811,639.3 807,639.6 803,639.9" fill="#a8a8a8" />
<polygon points="830,513 836.2,512.1 842.5,511 848.8,509.9 855,508.6 855,633.5 848.8,634.6 842.5,635.7 836.2,636.6 830,637.4" fill="#848484" />
<polygon points="866,506.1 871.8,504.6 877.5,502.9 883.2,501.1 889,499.1 889,625 883.2,626.8 877.5,628.4 871.8,629.9 866,631.3" fill="#747474" />
<polygon points="899,495.1 903.2,493.1 907.5,491 911.8,488.6 916,485.9 916,613.2 911.8,615.6 907.5,617.7 903.2,619.7 899,621.4" fill="#6c6c6c" />
<path d="M635.5 443.5h9v9h-9zM635.5 463.5h9v9h-9zM662.5 443.5h9v9h-9zM662.5 463.5h9v9h-9zM692.5 443.5h9v9h-9zM692.5 463.5h9v9h-9zM692.5 483.5h9v9h-9zM719.5 443.5h9v9h-9zM719.5 463.5h9v9h-9zM719.5 483.5h9v9h-9zM740.5 443.5h9v9h-9zM740.5 463.5h9v9h-9zM740.5 483.5h9v9h-9zM787.5 443.5h9v9h-9zM787.5 463.5h9v9h-9zM787.5 483.5h9v9h-9zM807.5 443.5h9v9h-9zM807.5 463.5h9v9h-9zM807.5 483.5h9v9h-9zM836.5 443.5h9v9h-9zM836.5 463.5h9v9h-9zM836.5 483.5h9v9h-9zM867.5 443.5h9v9h-9zM867.5 463.5h9v9h-9zM892.5 443.5h9v9h-9zM892.5 463.5h9v9h-9z" fill="#000"/>
<ellipse cx="769" cy="191" rx="153" ry="76" fill="#909090" stroke="#000" stroke-width="0" />
<polygon points="612,196 926,196 926,290 612,290" fill="#000" />
<polygon points="611,200 630.8,200 650.5,200 670.2,200 690,200 709.8,200 729.5,200 749.2,200 769,200 788.8,200 808.5,200 828.2,200 848,200 867.8,200 887.5,200 907.2,200 927,200 927,255.4 907.2,270.1 887.5,278.7 867.8,284.7 848,289 828.2,292.2 808.5,294.3 788.8,295.6 769,296 749.2,295.6 729.5,294.3 709.8,292.2 690,289 670.2,284.7 650.5,278.7 630.8,270.1 611,255.4" fill="#000" />
<ellipse cx="769" cy="196" rx="153" ry="76" fill="#fff" stroke="#000" stroke-width="0" clip-path="url(#c16low)"/>
<ellipse cx="769" cy="198" rx="149" ry="62" fill="#000" stroke="#000" stroke-width="0" />
<ellipse cx="769" cy="198" rx="143" ry="56" fill="#fff" stroke="#000" stroke-width="0" />
<path d="M638.5 188.5h9v9h-9zM638.5 209.5h9v9h-9zM673.5 167.5h9v9h-9zM673.5 188.5h9v9h-9zM673.5 209.5h9v9h-9zM673.5 230.5h9v9h-9zM709.5 146.5h9v9h-9zM709.5 167.5h9v9h-9zM709.5 188.5h9v9h-9zM709.5 209.5h9v9h-9zM709.5 230.5h9v9h-9zM743.5 146.5h9v9h-9zM743.5 167.5h9v9h-9zM743.5 188.5h9v9h-9zM743.5 209.5h9v9h-9zM743.5 230.5h9v9h-9zM790.5 146.5h9v9h-9zM790.5 167.5h9v9h-9zM790.5 188.5h9v9h-9zM790.5 209.5h9v9h-9zM790.5 230.5h9v9h-9zM817.5 146.5h9v9h-9zM817.5 167.5h9v9h-9zM817.5 188.5h9v9h-9zM817.5 209.5h9v9h-9zM817.5 230.5h9v9h-9zM853.5 167.5h9v9h-9zM853.5 188.5h9v9h-9zM853.5 209.5h9v9h-9zM853.5 230.5h9v9h-9zM888.5 188.5h9v9h-9zM888.5 209.5h9v9h-9z" fill="#000"/>
<path d="M624.5 236.5h7v7h-7zM648.5 252.5h7v7h-7zM686.5 264.5h7v7h-7zM836.5 264.5h7v7h-7zM876.5 254.5h7v7h-7zM904.5 236.5h7v7h-7z" fill="#000"/>
<polygon points="611,300 630.8,300 650.5,300 670.2,300 690,300 709.8,300 729.5,300 749.2,300 769,300 788.8,300 808.5,300 828.2,300 848,300 867.8,300 887.5,300 907.2,300 927,300 927,399 907.2,412.4 887.5,420.2 867.8,425.7 848,429.7 828.2,432.5 808.5,434.5 788.8,435.6 769,436 749.2,435.6 729.5,434.5 709.8,432.5 690,429.7 670.2,425.7 650.5,420.2 630.8,412.4 611,399" fill="#000" />
<polygon points="622,273.9 626.2,276.6 630.5,279 634.8,281.1 639,283.1 639,398.9 634.8,397 630.5,394.9 626.2,392.6 622,390" fill="#6c6c6c" />
<polygon points="650,287.5 655.5,289.4 661,291.1 666.5,292.7 672,294.1 672,409.5 666.5,408.1 661,406.6 655.5,404.9 650,403.1" fill="#747474" />
<polygon points="683,296.6 689.2,297.9 695.5,299 701.8,300.1 708,301 708,416.1 701.8,415.2 695.5,414.2 689.2,413.1 683,411.9" fill="#848484" />
<polygon points="719,302.3 725.2,303 731.5,303.5 737.8,304 744,304.3 744,419.4 737.8,419 731.5,418.6 725.2,418 719,417.4" fill="#a8a8a8" />
<polygon points="803,303.8 807,303.5 811,303.1 815,302.7 819,302.3 819,417.4 815,417.8 811,418.2 807,418.5 803,418.8" fill="#a8a8a8" />
<polygon points="830,301 836.2,300.1 842.5,299 848.8,297.9 855,296.6 855,411.9 848.8,413.1 842.5,414.2 836.2,415.2 830,416.1" fill="#848484" />
<polygon points="866,294.1 871.8,292.6 877.5,290.9 883.2,289.1 889,287.1 889,402.7 883.2,404.7 877.5,406.4 871.8,408 866,409.5" fill="#747474" />
<polygon points="899,283.1 903.2,281.1 907.5,279 911.8,276.6 916,273.9 916,390 911.8,392.6 907.5,394.9 903.2,397 899,398.9" fill="#6c6c6c" />
<rect x="757" y="138" width="26" height="550" fill="#000" />
<rect x="752" y="300" width="2" height="120" fill="#fff" />
<rect x="790" y="300" width="2" height="120" fill="#fff" />
<rect x="752" y="525" width="2" height="115" fill="#fff" />
<rect x="790" y="525" width="2" height="115" fill="#fff" />
<rect x="612" y="312" width="314" height="3" fill="#000" />
<rect x="612" y="330" width="314" height="3" fill="#000" />
<rect x="612" y="553" width="314" height="3" fill="#000" />
<rect x="612" y="570" width="314" height="3" fill="#000" />
<polygon points="928,296 1017,318 928,340" fill="#909090" stroke="#000" stroke-width="2.5" stroke-linejoin="miter" />
<rect x="510" y="311" width="17" height="20" fill="#9a9a9a" stroke="#000" stroke-width="3" />
<rect x="541" y="311" width="33" height="20" fill="#9a9a9a" stroke="#000" stroke-width="3" />
<rect x="588" y="311" width="23" height="20" fill="#9a9a9a" stroke="#000" stroke-width="3" />
<polygon points="497,564 592,541 592,553 611,553 611,572 592,572 592,586" fill="#909090" stroke="#000" stroke-width="2.5" stroke-linejoin="miter" />
<rect x="941" y="550" width="34" height="21" fill="#9a9a9a" stroke="#000" stroke-width="3" />
<rect x="988" y="550" width="19" height="21" fill="#9a9a9a" stroke="#000" stroke-width="3" />
</g>
<g id="c20">
<path d="M1749 190 L1749.9 181.6 L1752.5 173.4 L1756.8 165.3 L1762.8 157.5 L1770.4 150 L1779.6 143 L1790.1 136.5 L1801.9 130.5 L1815 125.3 L1829 120.7 L1843.9 116.9 L1859.6 113.9 L1875.7 111.7 L1892.3 110.4 L1909 110 L1925.7 110.4 L1942.3 111.7 L1958.4 113.9 L1974.1 116.9 L1989 120.7 L2003 125.3 L2016.1 130.5 L2027.9 136.5 L2038.4 143 L2047.6 150 L2055.2 157.5 L2061.2 165.3 L2065.5 173.4 L2068.1 181.6 L2069 190 L2069 619 L2068.1 626.3 L2065.5 633.6 L2061.2 640.6 L2055.2 647.5 L2047.6 654 L2038.4 660.1 L2027.9 665.8 L2016.1 671 L2003 675.6 L1989 679.6 L1974.1 682.9 L1958.4 685.6 L1942.3 687.5 L1925.7 688.6 L1909 689 L1892.3 688.6 L1875.7 687.5 L1859.6 685.6 L1843.9 682.9 L1829 679.6 L1815 675.6 L1801.9 671 L1790.1 665.8 L1779.6 660.1 L1770.4 654 L1762.8 647.5 L1756.8 640.6 L1752.5 633.6 L1749.9 626.3 L1749 619Z" fill="#000"/>
<polygon points="1762,627.5 1783,638 1804,644.8 1825,649.6 1846,653 1867,655.2 1888,656.6 1909,657 1930,656.6 1951,655.2 1972,653 1993,649.6 2014,644.8 2035,638 2056,627.5 2056,648.2 2035,659.5 2014,666.8 1993,672 1972,675.6 1951,678.1 1930,679.5 1909,680 1888,679.5 1867,678.1 1846,675.6 1825,672 1804,666.8 1783,659.5 1762,648.2" fill="#909090" />
<polygon points="1752,603.4 1774.4,616.9 1796.9,624.7 1819.3,630 1841.7,633.7 1864.1,636.1 1886.6,637.5 1909,638 1931.4,637.5 1953.9,636.1 1976.3,633.7 1998.7,630 2021.1,624.7 2043.6,616.9 2066,603.4 2066,616 2043.6,630.1 2021.1,638.1 1998.7,643.6 1976.3,647.5 1953.9,650 1931.4,651.5 1909,652 1886.6,651.5 1864.1,650 1841.7,647.5 1819.3,643.6 1796.9,638.1 1774.4,630.1 1752,616" fill="#000" />
<ellipse cx="1909" cy="449" rx="152" ry="50" fill="#f4f4f4" stroke="#000" stroke-width="0" />
<polygon points="1766,486.5 1770.2,489 1774.5,491.3 1778.8,493.4 1783,495.4 1783,619.3 1778.8,617.8 1774.5,616.1 1770.2,614.4 1766,612.4" fill="#7a7a7a" />
<polygon points="1796,500.4 1800.2,501.8 1804.5,503.2 1808.8,504.4 1813,505.6 1813,627.2 1808.8,626.3 1804.5,625.3 1800.2,624.3 1796,623.2" fill="#7a7a7a" />
<polygon points="1824,508.3 1831,509.7 1838,511 1845,512.2 1852,513.2 1852,633.1 1845,632.3 1838,631.4 1831,630.4 1824,629.2" fill="#7a7a7a" />
<polygon points="1866,514.9 1878,515.9 1890,516.6 1902,516.9 1914,517 1914,636 1902,636 1890,635.7 1878,635.2 1866,634.4" fill="#dcdcdc" />
<polygon points="1927,516.6 1938.2,516 1949.5,515.1 1960.8,513.9 1972,512.4 1972,632.4 1960.8,633.6 1949.5,634.5 1938.2,635.2 1927,635.7" fill="#909090" />
<polygon points="1982,510.7 1988.5,509.4 1995,508 2001.5,506.5 2008,504.8 2008,626.5 2001.5,627.9 1995,629.1 1988.5,630.1 1982,631.1" fill="#7a7a7a" />
<polygon points="2019,501.4 2022,500.4 2025,499.3 2028,498.2 2031,497 2031,620.6 2028,621.5 2025,622.3 2022,623.2 2019,623.9" fill="#7a7a7a" />
<polygon points="2041,492.6 2044,491.1 2047,489.5 2050,487.7 2053,485.8 2053,611.9 2050,613.3 2047,614.7 2044,615.9 2041,617.1" fill="#7a7a7a" />
<path d="M1773.5 447.5h9v9h-9zM1795.5 457.5h9v9h-9zM1825.5 467.5h9v9h-9zM1868.5 476.5h9v9h-9zM1929.5 477.5h9v9h-9zM1985.5 469.5h9v9h-9zM2025.5 455.5h9v9h-9zM2045.5 442.5h9v9h-9zM1770.5 427.5h9v9h-9zM1790.5 435.5h9v9h-9zM2035.5 427.5h9v9h-9zM2050.5 420.5h9v9h-9z" fill="#000"/>
<polygon points="1750,300 1769.9,300 1789.8,300 1809.6,300 1829.5,300 1849.4,300 1869.2,300 1889.1,300 1909,300 1928.9,300 1948.8,300 1968.6,300 1988.5,300 2008.4,300 2028.2,300 2048.1,300 2068,300 2068,411.7 2048.1,426.6 2028.2,435.3 2008.4,441.5 1988.5,445.9 1968.6,449.1 1948.8,451.3 1928.9,452.6 1909,453 1889.1,452.6 1869.2,451.3 1849.4,449.1 1829.5,445.9 1809.6,441.5 1789.8,435.3 1769.9,426.6 1750,411.7" fill="#000" />
<polygon points="1769,295.6 1771.2,296.7 1773.5,297.8 1775.8,298.8 1778,299.8 1778,417.9 1775.8,417 1773.5,416 1771.2,415 1769,413.9" fill="#7a7a7a" />
<polygon points="1789,304 1793.5,305.5 1798,306.9 1802.5,308.2 1807,309.4 1807,427 1802.5,425.9 1798,424.7 1793.5,423.3 1789,421.9" fill="#7a7a7a" />
<polygon points="1817,311.8 1824.5,313.3 1832,314.7 1839.5,315.9 1847,317 1847,434.2 1839.5,433.2 1832,432.1 1824.5,430.8 1817,429.3" fill="#7a7a7a" />
<polygon points="1860,318.5 1871.8,319.6 1883.5,320.3 1895.2,320.8 1907,321 1907,438 1895.2,437.8 1883.5,437.4 1871.8,436.7 1860,435.7" fill="#b8b8b8" />
<polygon points="1919,320.9 1930.8,320.5 1942.5,319.9 1954.2,318.9 1966,317.7 1966,434.8 1954.2,436 1942.5,436.9 1930.8,437.6 1919,437.9" fill="#b8b8b8" />
<polygon points="1977,316.2 1983.2,315.2 1989.5,314.1 1995.8,312.9 2002,311.6 2002,429.1 1995.8,430.3 1989.5,431.5 1983.2,432.5 1977,433.4" fill="#7a7a7a" />
<polygon points="2013,308.9 2016.5,307.9 2020,306.9 2023.5,305.8 2027,304.7 2027,422.6 2023.5,423.7 2020,424.7 2016.5,425.6 2013,426.5" fill="#7a7a7a" />
<polygon points="2036,301.4 2037.5,300.8 2039,300.2 2040.5,299.6 2042,298.9 2042,417.1 2040.5,417.7 2039,418.3 2037.5,418.9 2036,419.5" fill="#7a7a7a" />
<ellipse cx="1909" cy="189" rx="154" ry="73" fill="#a0a0a0" stroke="#000" stroke-width="0" />
<polygon points="1750,222 1769.9,222 1789.8,222 1809.6,222 1829.5,222 1849.4,222 1869.2,222 1889.1,222 1909,222 1928.9,222 1948.8,222 1968.6,222 1988.5,222 2008.4,222 2028.2,222 2048.1,222 2068,222 2068,276.8 2048.1,291 2028.2,299.3 2008.4,305.1 1988.5,309.3 1968.6,312.3 1948.8,314.4 1928.9,315.6 1909,316 1889.1,315.6 1869.2,314.4 1849.4,312.3 1829.5,309.3 1809.6,305.1 1789.8,299.3 1769.9,291 1750,276.8" fill="#000" />
<ellipse cx="1909" cy="222" rx="154" ry="80" fill="#fff" stroke="#000" stroke-width="0" clip-path="url(#c20low)"/>
<ellipse cx="1909" cy="222" rx="150" ry="63" fill="#000" stroke="#000" stroke-width="0" />
<ellipse cx="1909" cy="222" rx="145" ry="58" fill="#fff" stroke="#000" stroke-width="0" />
<path d="M1796 191h8v8h-8zM1796 212h8v8h-8zM1796 233h8v8h-8zM1824 191h8v8h-8zM1824 212h8v8h-8zM1824 233h8v8h-8zM1824 254h8v8h-8zM1866 170h8v8h-8zM1866 191h8v8h-8zM1866 212h8v8h-8zM1866 233h8v8h-8zM1866 254h8v8h-8zM1926 170h8v8h-8zM1926 191h8v8h-8zM1926 212h8v8h-8zM1926 233h8v8h-8zM1926 254h8v8h-8zM1982 191h8v8h-8zM1982 212h8v8h-8zM1982 233h8v8h-8zM1982 254h8v8h-8zM2020 191h8v8h-8zM2020 212h8v8h-8zM2020 233h8v8h-8z" fill="#000"/>
<path d="M1777.7 201.4h7v7h-7zM1786.6 194.3h7v7h-7zM1798.3 187.7h7v7h-7zM1812.7 181.9h7v7h-7zM1829.4 177h7v7h-7zM1848 173.2h7v7h-7zM1868 170.4h7v7h-7zM1888.9 168.9h7v7h-7zM1910.2 168.5h7v7h-7zM1931.5 169.4h7v7h-7zM1952 171.5h7v7h-7zM1971.4 174.8h7v7h-7zM1989.2 179.1h7v7h-7zM2005 184.4h7v7h-7zM2018.2 190.5h7v7h-7zM2028.8 197.4h7v7h-7zM2036.2 204.7h7v7h-7z" fill="#000"/>
<path d="M1761.5 258.5h7v7h-7zM1786.5 274.5h7v7h-7zM1824.5 288.5h7v7h-7zM1866.5 296.5h7v7h-7zM1983.5 288.5h7v7h-7zM2021.5 274.5h7v7h-7zM2041.5 258.5h7v7h-7zM2051.5 248.5h7v7h-7z" fill="#000"/>
<polygon points="1873,370 1899,342 1905,352 1932,408 1914,418 1895,368 1884,380" fill="#6a6a6a" stroke="#000" stroke-width="3" stroke-linejoin="miter" />
<polyline points="1925,343 1935,341" fill="none" stroke="#000" stroke-width="3" stroke-linecap="round" stroke-linejoin="round" />
<polyline points="1868,382 1905,395" fill="none" stroke="#000" stroke-width="3" stroke-linecap="round" stroke-linejoin="round" />
<polygon points="1929,530 1940,524 1968,600 1980,604 1940,625 1948,610 1930,560" fill="#6a6a6a" stroke="#000" stroke-width="3" stroke-linejoin="miter" />
<polyline points="1867,535 1912,550" fill="none" stroke="#000" stroke-width="3" stroke-linecap="round" stroke-linejoin="round" />
</g>
<g id="c12">
<path d="M262 1395 L263.1 1387.9 L266.5 1380.9 L272.1 1374 L279.8 1367.3 L289.6 1361 L301.3 1355 L314.9 1349.5 L330.2 1344.5 L346.9 1340 L365 1336.1 L384.2 1332.9 L404.3 1330.3 L425.2 1328.5 L446.5 1327.4 L468 1327 L489.5 1327.4 L510.8 1328.5 L531.7 1330.3 L551.8 1332.9 L571 1336.1 L589.1 1340 L605.8 1344.5 L621.1 1349.5 L634.7 1355 L646.4 1361 L656.2 1367.3 L663.9 1374 L669.5 1380.9 L672.9 1387.9 L674 1395 L674 1511 L672.9 1517.1 L669.5 1523.1 L663.9 1528.9 L656.2 1534.6 L646.4 1540 L634.7 1545.1 L621.1 1549.8 L605.8 1554.1 L589.1 1557.9 L571 1561.2 L551.8 1564 L531.7 1566.2 L510.8 1567.7 L489.5 1568.7 L468 1569 L446.5 1568.7 L425.2 1567.7 L404.3 1566.2 L384.2 1564 L365 1561.2 L346.9 1557.9 L330.2 1554.1 L314.9 1549.8 L301.3 1545.1 L289.6 1540 L279.8 1534.6 L272.1 1528.9 L266.5 1523.1 L263.1 1517.1 L262 1511Z" fill="#000"/>
<ellipse cx="468" cy="1396" rx="193" ry="50" fill="#fff" stroke="#000" stroke-width="0" />
<path d="M285.5 1389.5h9v9h-9zM330.5 1391.5h9v9h-9zM330.5 1412.5h9v9h-9zM372.5 1391.5h9v9h-9zM372.5 1413.5h9v9h-9zM410.5 1407.5h9v9h-9zM410.5 1426.5h9v9h-9zM438.5 1407.5h9v9h-9zM438.5 1426.5h9v9h-9zM492.5 1407.5h9v9h-9zM492.5 1426.5h9v9h-9zM518.5 1407.5h9v9h-9zM518.5 1426.5h9v9h-9zM553.5 1410.5h9v9h-9zM553.5 1393.5h9v9h-9zM593.5 1393.5h9v9h-9zM593.5 1413.5h9v9h-9zM636.5 1393.5h9v9h-9z" fill="#000"/>
<path d="M309.5 1150 L626.5 1150 L626.5 1350 L625.6 1355 L623 1360 L618.7 1364.8 L612.8 1369.5 L605.3 1374 L596.2 1378.2 L585.8 1382.1 L574.1 1385.7 L561.2 1388.8 L547.2 1391.6 L532.5 1393.9 L517 1395.7 L501 1397 L484.6 1397.7 L468 1398 L451.4 1397.7 L435 1397 L419 1395.7 L403.5 1393.9 L388.8 1391.6 L374.8 1388.8 L361.9 1385.7 L350.2 1382.1 L339.8 1378.2 L330.7 1374 L323.2 1369.5 L317.3 1364.8 L313 1360 L310.4 1355 L309.5 1350Z" fill="#000"/>
<ellipse cx="468" cy="1207" rx="151" ry="45" fill="#fff" stroke="#000" stroke-width="0" />
<path d="M333.5 1207.5h9v9h-9zM360.5 1217.5h9v9h-9zM392.5 1227.5h9v9h-9zM420.5 1235.5h9v9h-9zM441.5 1238.5h9v9h-9zM495.5 1238.5h9v9h-9zM517.5 1235.5h9v9h-9zM543.5 1228.5h9v9h-9zM575.5 1217.5h9v9h-9zM599.5 1207.5h9v9h-9zM420.5 1217.5h9v9h-9zM441.5 1220.5h9v9h-9zM495.5 1220.5h9v9h-9zM517.5 1217.5h9v9h-9z" fill="#000"/>
<polygon points="323,1241.8 326.5,1243.8 330,1245.6 333.5,1247.3 337,1248.8 337,1358.7 333.5,1356.9 330,1355 326.5,1352.9 323,1350.6" fill="#7a7a7a" />
<polygon points="348,1253.1 354,1255 360,1256.8 366,1258.4 372,1259.9 372,1371.4 366,1369.7 360,1367.9 354,1365.8 348,1363.6" fill="#7a7a7a" />
<polygon points="383,1262.3 389.5,1263.5 396,1264.6 402.5,1265.6 409,1266.4 409,1378.9 402.5,1377.9 396,1376.8 389.5,1375.5 383,1374.1" fill="#909090" />
<polygon points="420,1267.7 425.5,1268.2 431,1268.6 436.5,1269 442,1269.3 442,1382.2 436.5,1381.9 431,1381.4 425.5,1380.9 420,1380.3" fill="#b8b8b8" />
<polygon points="450,1269.7 451.5,1269.7 453,1269.8 454.5,1269.8 456,1269.9 456,1382.8 454.5,1382.8 453,1382.7 451.5,1382.7 450,1382.6" fill="#e6e6e6" />
<polygon points="489,1269.6 489.8,1269.5 490.5,1269.5 491.2,1269.5 492,1269.4 492,1382.3 491.2,1382.4 490.5,1382.4 489.8,1382.5 489,1382.5" fill="#e6e6e6" />
<polygon points="501,1268.9 504.2,1268.7 507.5,1268.4 510.8,1268.2 514,1267.9 514,1380.5 510.8,1380.9 507.5,1381.2 504.2,1381.5 501,1381.7" fill="#b8b8b8" />
<polygon points="525,1266.7 531.5,1265.8 538,1264.9 544.5,1263.8 551,1262.7 551,1374.6 544.5,1375.9 538,1377.1 531.5,1378.2 525,1379.2" fill="#909090" />
<polygon points="562,1260.4 568,1259 574,1257.4 580,1255.7 586,1253.7 586,1364.3 580,1366.5 574,1368.5 568,1370.3 562,1372" fill="#7a7a7a" />
<polygon points="598,1249.3 602.5,1247.3 607,1245.1 611.5,1242.7 616,1239.9 616,1348.4 611.5,1351.6 607,1354.4 602.5,1356.9 598,1359.2" fill="#7a7a7a" />
<polygon points="263,1396.6 283.5,1413 304,1422.7 324.5,1429.8 345,1435.2 365.5,1439.4 386,1442.6 406.5,1445 427,1446.7 447.5,1447.7 468,1448 488.5,1447.7 509,1446.7 529.5,1445 550,1442.6 570.5,1439.4 591,1435.2 611.5,1429.8 632,1422.7 652.5,1413 673,1396.6 673,1506.8 652.5,1520.6 632,1528.8 611.5,1534.7 591,1539.2 570.5,1542.8 550,1545.5 529.5,1547.5 509,1548.9 488.5,1549.7 468,1550 447.5,1549.7 427,1548.9 406.5,1547.5 386,1545.5 365.5,1542.8 345,1539.2 324.5,1534.7 304,1528.8 283.5,1520.6 263,1506.8" fill="#000" />
<polygon points="274,1518.6 298.2,1529.5 322.5,1536.7 346.8,1541.9 371,1545.8 395.2,1548.6 419.5,1550.5 443.8,1551.6 468,1552 492.2,1551.6 516.5,1550.5 540.8,1548.6 565,1545.8 589.2,1541.9 613.5,1536.7 637.8,1529.5 662,1518.6 662,1526.6 637.8,1537.5 613.5,1544.7 589.2,1549.9 565,1553.8 540.8,1556.6 516.5,1558.5 492.2,1559.6 468,1560 443.8,1559.6 419.5,1558.5 395.2,1556.6 371,1553.8 346.8,1549.9 322.5,1544.7 298.2,1537.5 274,1526.6" fill="#7a7a7a" />
<g clip-path="url(#bc3)">
<polygon points="278,1431.9 280,1433.1 282,1434.2 284,1435.3 286,1436.3 286,1513.7 284,1512.8 282,1511.8 280,1510.8 278,1509.7" fill="#7a7a7a" />
<polygon points="297,1441.2 306,1444.6 315,1447.6 324,1450.2 333,1452.6 333,1528.7 324,1526.6 315,1524.1 306,1521.4 297,1518.3" fill="#7a7a7a" />
<polygon points="345,1455.3 352.5,1456.8 360,1458.2 367.5,1459.5 375,1460.6 375,1536.1 367.5,1535.1 360,1533.9 352.5,1532.6 345,1531.2" fill="#7a7a7a" />
<polygon points="386,1462.1 393,1462.9 400,1463.7 407,1464.3 414,1464.9 414,1540.1 407,1539.5 400,1538.9 393,1538.2 386,1537.5" fill="#909090" />
<polygon points="425,1465.7 429.2,1465.9 433.5,1466.2 437.8,1466.4 442,1466.5 442,1541.6 437.8,1541.4 433.5,1541.2 429.2,1541 425,1540.8" fill="#b8b8b8" />
<polygon points="450,1466.8 451.5,1466.8 453,1466.8 454.5,1466.9 456,1466.9 456,1541.9 454.5,1541.9 453,1541.9 451.5,1541.8 450,1541.8" fill="#e6e6e6" />
<polygon points="491,1466.6 492,1466.6 493,1466.6 494,1466.5 495,1466.5 495,1541.5 494,1541.6 493,1541.6 492,1541.6 491,1541.7" fill="#e6e6e6" />
<polygon points="505,1466 508.8,1465.8 512.5,1465.6 516.2,1465.3 520,1465.1 520,1540.2 516.2,1540.5 512.5,1540.7 508.8,1540.9 505,1541.1" fill="#b8b8b8" />
<polygon points="531,1464.2 537,1463.6 543,1462.9 549,1462.2 555,1461.5 555,1536.9 549,1537.6 543,1538.2 537,1538.8 531,1539.4" fill="#909090" />
<polygon points="566,1459.9 573.2,1458.7 580.5,1457.4 587.8,1456 595,1454.4 595,1530.4 587.8,1531.9 580.5,1533.2 573.2,1534.3 566,1535.4" fill="#7a7a7a" />
<polygon points="605,1452.1 613,1450 621,1447.6 629,1445 637,1442 637,1519 629,1521.7 621,1524.1 613,1526.3 605,1528.3" fill="#7a7a7a" />
<polygon points="650,1436.3 653.5,1434.5 657,1432.5 660.5,1430.4 664,1428 664,1506.1 660.5,1508.3 657,1510.3 653.5,1512.1 650,1513.7" fill="#7a7a7a" />
</g>
<path d="M262 1034 L263.1 1027 L266.5 1020.1 L272.1 1013.3 L279.8 1006.7 L289.6 1000.5 L301.3 994.6 L314.9 989.2 L330.2 984.2 L346.9 979.8 L365 976 L384.2 972.8 L404.3 970.3 L425.2 968.5 L446.5 967.4 L468 967 L489.5 967.4 L510.8 968.5 L531.7 970.3 L551.8 972.8 L571 976 L589.1 979.8 L605.8 984.2 L621.1 989.2 L634.7 994.6 L646.4 1000.5 L656.2 1006.7 L663.9 1013.3 L669.5 1020.1 L672.9 1027 L674 1034 L674 1145 L672.9 1151 L669.5 1156.9 L663.9 1162.6 L656.2 1168.2 L646.4 1173.5 L634.7 1178.5 L621.1 1183.1 L605.8 1187.4 L589.1 1191.1 L571 1194.4 L551.8 1197.1 L531.7 1199.2 L510.8 1200.8 L489.5 1201.7 L468 1202 L446.5 1201.7 L425.2 1200.8 L404.3 1199.2 L384.2 1197.1 L365 1194.4 L346.9 1191.1 L330.2 1187.4 L314.9 1183.1 L301.3 1178.5 L289.6 1173.5 L279.8 1168.2 L272.1 1162.6 L266.5 1156.9 L263.1 1151 L262 1145Z" fill="#000"/>
<ellipse cx="468" cy="1036" rx="194" ry="46" fill="#fff" stroke="#000" stroke-width="0" />
<g clip-path="url(#bc4)">
<polygon points="277,1092.2 279.5,1093 282,1093.8 284.5,1094.5 287,1095.2 287,1172.6 284.5,1172 282,1171.4 279.5,1170.7 277,1170" fill="#7a7a7a" />
<polygon points="300,1098.3 308.5,1100.1 317,1101.6 325.5,1102.9 334,1104.1 334,1180.2 325.5,1179.2 317,1178.1 308.5,1176.8 300,1175.3" fill="#7a7a7a" />
<polygon points="347,1105.7 355.2,1106.6 363.5,1107.5 371.8,1108.2 380,1108.8 380,1184.3 371.8,1183.7 363.5,1183.1 355.2,1182.4 347,1181.6" fill="#7a7a7a" />
<polygon points="391,1109.6 397.2,1110 403.5,1110.3 409.8,1110.7 416,1110.9 416,1186.1 409.8,1185.8 403.5,1185.6 397.2,1185.3 391,1185" fill="#909090" />
<polygon points="428,1111.4 431.5,1111.5 435,1111.6 438.5,1111.7 442,1111.7 442,1186.8 438.5,1186.7 435,1186.6 431.5,1186.6 428,1186.5" fill="#b8b8b8" />
<polygon points="453,1111.9 454.5,1111.9 456,1111.9 457.5,1112 459,1112 459,1187 457.5,1187 456,1187 454.5,1186.9 453,1186.9" fill="#e6e6e6" />
<polygon points="494,1111.7 495,1111.7 496,1111.7 497,1111.7 498,1111.6 498,1186.7 497,1186.7 496,1186.7 495,1186.8 494,1186.8" fill="#e6e6e6" />
<polygon points="508,1111.4 512.2,1111.2 516.5,1111.1 520.8,1110.9 525,1110.7 525,1185.9 520.8,1186.1 516.5,1186.2 512.2,1186.3 508,1186.5" fill="#b8b8b8" />
<polygon points="536,1110.2 541.5,1109.8 547,1109.5 552.5,1109.1 558,1108.7 558,1184.2 552.5,1184.5 547,1184.8 541.5,1185.1 536,1185.4" fill="#909090" />
<polygon points="569,1107.8 576,1107.1 583,1106.4 590,1105.6 597,1104.8 597,1180.8 590,1181.5 583,1182.2 576,1182.8 569,1183.4" fill="#7a7a7a" />
<polygon points="608,1103.3 616.2,1102 624.5,1100.6 632.8,1099 641,1097.2 641,1174.3 632.8,1175.9 624.5,1177.2 616.2,1178.4 608,1179.5" fill="#7a7a7a" />
<polygon points="651,1094.7 653,1094.1 655,1093.5 657,1092.9 659,1092.2 659,1170 657,1170.6 655,1171.1 653,1171.7 651,1172.1" fill="#7a7a7a" />
</g>
<line x1="323" y1="1004" x2="323" y2="1072" stroke="#000" stroke-width="8"/>
<line x1="603" y1="1004" x2="603" y2="1072" stroke="#000" stroke-width="8"/>
<polyline points="596.5,1016.9 594.7,1022.4 591.7,1027.7 587.5,1033 582,1038 575.4,1042.8 567.8,1047.2 559.2,1051.4 549.6,1055.1 539.3,1058.4 528.2,1061.3 516.5,1063.7 504.3,1065.6 491.7,1066.9 478.9,1067.7 466,1068 453.1,1067.7 440.3,1066.9 427.7,1065.6 415.5,1063.7 403.8,1061.3 392.7,1058.4 382.4,1055.1 372.8,1051.4 364.2,1047.2 356.6,1042.8 350,1038 344.5,1033 340.3,1027.7 337.3,1022.4 335.5,1016.9" fill="none" stroke="#000" stroke-width="7" stroke-linecap="round" stroke-linejoin="round" />
<path d="M378.5 1025.5h9v9h-9zM378.5 1045.5h9v9h-9zM415.5 1019.5h9v9h-9zM415.5 1039.5h9v9h-9zM440.5 1019.5h9v9h-9zM440.5 1039.5h9v9h-9zM495.5 1017.5h9v9h-9zM495.5 1038.5h9v9h-9zM521.5 1025.5h9v9h-9zM521.5 1045.5h9v9h-9zM555.5 1025.5h9v9h-9zM378.5 1071.5h9v9h-9zM335.5 1055.5h9v9h-9zM521.5 1067.5h9v9h-9zM555.5 1067.5h9v9h-9zM287.5 1045.5h9v9h-9zM638.5 1039.5h9v9h-9zM378.5 1001.5h9v9h-9zM415.5 998.5h9v9h-9zM440.5 998.5h9v9h-9zM495.5 998.5h9v9h-9zM521.5 1001.5h9v9h-9zM555.5 1005.5h9v9h-9z" fill="#000"/>
<rect x="472" y="990" width="9" height="575" fill="#000" />
<rect x="462" y="1092" width="28" height="110" fill="#000" />
<rect x="462" y="1252" width="28" height="146" fill="#000" />
<rect x="462" y="1446" width="28" height="123" fill="#000" />
<rect x="460" y="1112" width="2" height="75" fill="#fff" />
<rect x="492" y="1112" width="2" height="75" fill="#fff" />
<rect x="268" y="1120" width="400" height="3" fill="#000" />
<rect x="268" y="1136" width="400" height="3" fill="#000" />
<rect x="312" y="1286" width="312" height="3" fill="#000" />
<rect x="312" y="1302" width="312" height="3" fill="#000" />
<rect x="268" y="1467" width="400" height="3" fill="#000" />
<rect x="268" y="1482" width="400" height="3" fill="#000" />
<polygon points="284,1108 200,1130 284,1158" fill="#909090" stroke="#000" stroke-width="2.5" stroke-linejoin="miter" />
<rect x="686" y="1117" width="17" height="20" fill="#9a9a9a" stroke="#000" stroke-width="3" />
<polygon points="626,1271 717,1292 626,1313" fill="#909090" stroke="#000" stroke-width="2.5" stroke-linejoin="miter" />
<rect x="214" y="1286" width="17" height="20" fill="#9a9a9a" stroke="#000" stroke-width="3" />
<rect x="244" y="1286" width="36" height="20" fill="#9a9a9a" stroke="#000" stroke-width="3" />
<rect x="292" y="1286" width="18" height="20" fill="#9a9a9a" stroke="#000" stroke-width="3" />
<polygon points="284,1456 200,1478 284,1504" fill="#909090" stroke="#000" stroke-width="2.5" stroke-linejoin="miter" />
<rect x="686" y="1463" width="17" height="20" fill="#9a9a9a" stroke="#000" stroke-width="3" />
</g>
<g id="c14">
<path d="M2021 1346 L2022.1 1338.9 L2025.5 1331.9 L2031.1 1325 L2038.9 1318.3 L2048.7 1312 L2060.5 1306 L2074.2 1300.5 L2089.5 1295.5 L2106.3 1291 L2124.5 1287.1 L2143.8 1283.9 L2164 1281.3 L2185 1279.5 L2206.4 1278.4 L2228 1278 L2249.6 1278.4 L2271 1279.5 L2292 1281.3 L2312.2 1283.9 L2331.5 1287.1 L2349.7 1291 L2366.5 1295.5 L2381.8 1300.5 L2395.5 1306 L2407.3 1312 L2417.1 1318.3 L2424.9 1325 L2430.5 1331.9 L2433.9 1338.9 L2435 1346 L2435 1465 L2433.9 1471 L2430.5 1476.9 L2424.9 1482.6 L2417.1 1488.2 L2407.3 1493.5 L2395.5 1498.5 L2381.8 1503.1 L2366.5 1507.4 L2349.7 1511.1 L2331.5 1514.4 L2312.2 1517.1 L2292 1519.2 L2271 1520.8 L2249.6 1521.7 L2228 1522 L2206.4 1521.7 L2185 1520.8 L2164 1519.2 L2143.8 1517.1 L2124.5 1514.4 L2106.3 1511.1 L2089.5 1507.4 L2074.2 1503.1 L2060.5 1498.5 L2048.7 1493.5 L2038.9 1488.2 L2031.1 1482.6 L2025.5 1476.9 L2022.1 1471 L2021 1465Z" fill="#000"/>
<ellipse cx="2228" cy="1348" rx="194" ry="47" fill="#fff" stroke="#000" stroke-width="0" />
<path d="M2047.5 1340.5h9v9h-9zM2080.5 1333.5h9v9h-9zM2080.5 1353.5h9v9h-9zM2110.5 1360.5h9v9h-9zM2150.5 1373.5h9v9h-9zM2213.5 1380.5h9v9h-9zM2280.5 1373.5h9v9h-9zM2325.5 1363.5h9v9h-9zM2360.5 1350.5h9v9h-9zM2360.5 1330.5h9v9h-9zM2395.5 1340.5h9v9h-9z" fill="#000"/>
<path d="M2068 1105 L2388 1105 L2388 1302 L2387.1 1307 L2384.5 1312 L2380.2 1316.8 L2374.2 1321.5 L2366.6 1326 L2357.4 1330.2 L2346.9 1334.1 L2335.1 1337.7 L2322 1340.8 L2308 1343.6 L2293.1 1345.9 L2277.4 1347.7 L2261.3 1349 L2244.7 1349.7 L2228 1350 L2211.3 1349.7 L2194.7 1349 L2178.6 1347.7 L2162.9 1345.9 L2148 1343.6 L2134 1340.8 L2120.9 1337.7 L2109.1 1334.1 L2098.6 1330.2 L2089.4 1326 L2081.8 1321.5 L2075.8 1316.8 L2071.5 1312 L2068.9 1307 L2068 1302Z" fill="#000"/>
<ellipse cx="2228" cy="1152" rx="151" ry="45" fill="#fff" stroke="#000" stroke-width="0" />
<path d="M2095.5 1160.5h9v9h-9zM2133.5 1175.5h9v9h-9zM2173.5 1183.5h9v9h-9zM2233.5 1185.5h9v9h-9zM2295.5 1177.5h9v9h-9zM2337.5 1165.5h9v9h-9zM2095.5 1143.5h9v9h-9zM2355.5 1147.5h9v9h-9z" fill="#000"/>
<polygon points="2083,1193.3 2087.8,1195.9 2092.5,1198.3 2097.2,1200.5 2102,1202.4 2102,1312.3 2097.2,1310.2 2092.5,1307.8 2087.8,1305.2 2083,1302.3" fill="#7a7a7a" />
<polygon points="2114,1206.7 2118,1207.9 2122,1209 2126,1210.1 2130,1211.2 2130,1322 2126,1320.9 2122,1319.7 2118,1318.4 2114,1317" fill="#7a7a7a" />
<polygon points="2142,1213.9 2149.5,1215.3 2157,1216.6 2164.5,1217.7 2172,1218.7 2172,1330.4 2164.5,1329.3 2157,1328 2149.5,1326.6 2142,1325" fill="#7a7a7a" />
<polygon points="2185,1220.1 2196.5,1221 2208,1221.6 2219.5,1221.9 2231,1222 2231,1334 2219.5,1333.9 2208,1333.5 2196.5,1332.9 2185,1331.9" fill="#dcdcdc" />
<polygon points="2244,1221.7 2255.2,1221.2 2266.5,1220.5 2277.8,1219.4 2289,1218.1 2289,1329.6 2277.8,1331.1 2266.5,1332.3 2255.2,1333.2 2244,1333.7" fill="#dcdcdc" />
<polygon points="2302,1216.1 2308.2,1215 2314.5,1213.8 2320.8,1212.4 2327,1210.9 2327,1321.7 2320.8,1323.4 2314.5,1324.9 2308.2,1326.2 2302,1327.5" fill="#7a7a7a" />
<polygon points="2339,1207.6 2342.2,1206.6 2345.5,1205.5 2348.8,1204.4 2352,1203.2 2352,1313.2 2348.8,1314.5 2345.5,1315.8 2342.2,1316.9 2339,1318.1" fill="#7a7a7a" />
<polygon points="2364,1198.1 2366.5,1196.8 2369,1195.5 2371.5,1194.2 2374,1192.7 2374,1301.6 2371.5,1303.2 2369,1304.8 2366.5,1306.2 2364,1307.6" fill="#7a7a7a" />
<polygon points="2022,1353.7 2042.6,1367.6 2063.2,1375.7 2083.8,1381.7 2104.4,1386.2 2125,1389.8 2145.6,1392.5 2166.2,1394.5 2186.8,1395.9 2207.4,1396.7 2228,1397 2248.6,1396.7 2269.2,1395.9 2289.8,1394.5 2310.4,1392.5 2331,1389.8 2351.6,1386.2 2372.2,1381.7 2392.8,1375.7 2413.4,1367.6 2434,1353.7 2434,1470.7 2413.4,1481.6 2392.8,1488.1 2372.2,1492.9 2351.6,1496.5 2331,1499.3 2310.4,1501.4 2289.8,1503 2269.2,1504.1 2248.6,1504.8 2228,1505 2207.4,1504.8 2186.8,1504.1 2166.2,1503 2145.6,1501.4 2125,1499.3 2104.4,1496.5 2083.8,1492.9 2063.2,1488.1 2042.6,1481.6 2022,1470.7" fill="#000" />
<polygon points="2033,1477.5 2057.4,1486.5 2081.8,1492.4 2106.1,1496.7 2130.5,1499.9 2154.9,1502.2 2179.2,1503.8 2203.6,1504.7 2228,1505 2252.4,1504.7 2276.8,1503.8 2301.1,1502.2 2325.5,1499.9 2349.9,1496.7 2374.2,1492.4 2398.6,1486.5 2423,1477.5 2423,1485.3 2398.6,1494.7 2374.2,1500.9 2349.9,1505.4 2325.5,1508.7 2301.1,1511.1 2276.8,1512.7 2252.4,1513.7 2228,1514 2203.6,1513.7 2179.2,1512.7 2154.9,1511.1 2130.5,1508.7 2106.1,1505.4 2081.8,1500.9 2057.4,1494.7 2033,1485.3" fill="#7a7a7a" />
<g clip-path="url(#bc5)">
<polygon points="2047,1394.4 2049,1395.2 2051,1395.9 2053,1396.6 2055,1397.3 2055,1477.8 2053,1477.2 2051,1476.6 2049,1475.9 2047,1475.2" fill="#7a7a7a" />
<polygon points="2063,1399.9 2066,1400.8 2069,1401.6 2072,1402.4 2075,1403.2 2075,1483 2072,1482.3 2069,1481.6 2066,1480.9 2063,1480.1" fill="#7a7a7a" />
<polygon points="2088,1406.2 2093.8,1407.4 2099.5,1408.5 2105.2,1409.5 2111,1410.5 2111,1489.4 2105.2,1488.6 2099.5,1487.7 2093.8,1486.7 2088,1485.7" fill="#7a7a7a" />
<polygon points="2121,1412 2128.8,1413 2136.5,1414 2144.2,1414.8 2152,1415.6 2152,1494 2144.2,1493.3 2136.5,1492.5 2128.8,1491.7 2121,1490.8" fill="#7a7a7a" />
<polygon points="2164,1416.6 2176.2,1417.4 2188.5,1418.1 2200.8,1418.6 2213,1418.9 2213,1496.9 2200.8,1496.6 2188.5,1496.2 2176.2,1495.6 2164,1494.9" fill="#dcdcdc" />
<polygon points="2225,1419 2238,1418.9 2251,1418.7 2264,1418.3 2277,1417.6 2277,1495.8 2264,1496.3 2251,1496.7 2238,1496.9 2225,1497" fill="#dcdcdc" />
<polygon points="2289,1416.8 2297.8,1416.1 2306.5,1415.3 2315.2,1414.4 2324,1413.4 2324,1492.1 2315.2,1493 2306.5,1493.8 2297.8,1494.5 2289,1495.1" fill="#7a7a7a" />
<polygon points="2335,1412 2340.8,1411.1 2346.5,1410.2 2352.2,1409.2 2358,1408.2 2358,1487.4 2352.2,1488.4 2346.5,1489.2 2340.8,1490 2335,1490.8" fill="#7a7a7a" />
<polygon points="2369,1406 2372.5,1405.2 2376,1404.4 2379.5,1403.6 2383,1402.7 2383,1482.6 2379.5,1483.3 2376,1484.1 2372.5,1484.8 2369,1485.5" fill="#7a7a7a" />
<polygon points="2394,1399.6 2396,1399 2398,1398.3 2400,1397.7 2402,1397 2402,1477.5 2400,1478.1 2398,1478.7 2396,1479.3 2394,1479.8" fill="#7a7a7a" />
<polygon points="2411,1393.6 2413.2,1392.7 2415.5,1391.7 2417.8,1390.6 2420,1389.5 2420,1470.9 2417.8,1471.9 2415.5,1472.8 2413.2,1473.7 2411,1474.5" fill="#7a7a7a" />
</g>
<path d="M2021 990 L2022.1 982.7 L2025.5 975.4 L2031.1 968.4 L2038.9 961.5 L2048.7 955 L2060.5 948.9 L2074.2 943.2 L2089.5 938 L2106.3 933.4 L2124.5 929.4 L2143.8 926.1 L2164 923.4 L2185 921.5 L2206.4 920.4 L2228 920 L2249.6 920.4 L2271 921.5 L2292 923.4 L2312.2 926.1 L2331.5 929.4 L2349.7 933.4 L2366.5 938 L2381.8 943.2 L2395.5 948.9 L2407.3 955 L2417.1 961.5 L2424.9 968.4 L2430.5 975.4 L2433.9 982.7 L2435 990 L2435 1102 L2433.9 1108 L2430.5 1113.9 L2424.9 1119.6 L2417.1 1125.2 L2407.3 1130.5 L2395.5 1135.5 L2381.8 1140.1 L2366.5 1144.4 L2349.7 1148.1 L2331.5 1151.4 L2312.2 1154.1 L2292 1156.2 L2271 1157.8 L2249.6 1158.7 L2228 1159 L2206.4 1158.7 L2185 1157.8 L2164 1156.2 L2143.8 1154.1 L2124.5 1151.4 L2106.3 1148.1 L2089.5 1144.4 L2074.2 1140.1 L2060.5 1135.5 L2048.7 1130.5 L2038.9 1125.2 L2031.1 1119.6 L2025.5 1113.9 L2022.1 1108 L2021 1102Z" fill="#000"/>
<ellipse cx="2228" cy="991" rx="194" ry="46" fill="#fff" stroke="#000" stroke-width="0" />
<g clip-path="url(#bc6)">
<polygon points="2036,1035.5 2038.8,1037.1 2041.5,1038.5 2044.2,1039.8 2047,1041.1 2047,1119.2 2044.2,1118.3 2041.5,1117.2 2038.8,1116.1 2036,1114.9" fill="#7a7a7a" />
<polygon points="2063,1047.3 2066,1048.3 2069,1049.3 2072,1050.2 2075,1051 2075,1127 2072,1126.3 2069,1125.6 2066,1124.9 2063,1124.1" fill="#7a7a7a" />
<polygon points="2088,1054.5 2093.5,1055.7 2099,1056.9 2104.5,1058.1 2110,1059.1 2110,1133.3 2104.5,1132.5 2099,1131.6 2093.5,1130.7 2088,1129.7" fill="#7a7a7a" />
<polygon points="2121,1061 2128.8,1062.2 2136.5,1063.3 2144.2,1064.2 2152,1065.1 2152,1138 2144.2,1137.3 2136.5,1136.5 2128.8,1135.7 2121,1134.8" fill="#7a7a7a" />
<polygon points="2164,1066.3 2175.8,1067.2 2187.5,1067.9 2199.2,1068.5 2211,1068.8 2211,1140.9 2199.2,1140.6 2187.5,1140.2 2175.8,1139.6 2164,1138.9" fill="#dcdcdc" />
<polygon points="2224,1069 2237.2,1068.9 2250.5,1068.7 2263.8,1068.2 2277,1067.4 2277,1139.8 2263.8,1140.3 2250.5,1140.7 2237.2,1141 2224,1141" fill="#dcdcdc" />
<polygon points="2289,1066.5 2297.2,1065.8 2305.5,1065 2313.8,1064 2322,1062.9 2322,1136.3 2313.8,1137.1 2305.5,1137.8 2297.2,1138.5 2289,1139.1" fill="#7a7a7a" />
<polygon points="2335,1061 2340.2,1060.1 2345.5,1059.2 2350.8,1058.2 2356,1057.2 2356,1131.8 2350.8,1132.6 2345.5,1133.4 2340.2,1134.1 2335,1134.8" fill="#7a7a7a" />
<polygon points="2369,1054.2 2372,1053.5 2375,1052.7 2378,1051.9 2381,1051 2381,1127 2378,1127.7 2375,1128.3 2372,1128.9 2369,1129.5" fill="#7a7a7a" />
<polygon points="2394,1047 2396,1046.3 2398,1045.5 2400,1044.8 2402,1044 2402,1121.5 2400,1122.1 2398,1122.7 2396,1123.3 2394,1123.8" fill="#7a7a7a" />
<polygon points="2413,1039.2 2414.8,1038.4 2416.5,1037.5 2418.2,1036.5 2420,1035.5 2420,1114.9 2418.2,1115.7 2416.5,1116.4 2414.8,1117.1 2413,1117.8" fill="#7a7a7a" />
</g>
<line x1="2089" y1="962" x2="2089" y2="1030" stroke="#000" stroke-width="7"/>
<line x1="2364" y1="962" x2="2364" y2="1030" stroke="#000" stroke-width="7"/>
<polyline points="2360.5,967.2 2358.7,973.1 2355.6,978.9 2351.2,984.5 2345.7,989.9 2339,995 2331.1,999.8 2322.3,1004.2 2312.5,1008.2 2301.9,1011.7 2290.6,1014.8 2278.6,1017.4 2266.2,1019.4 2253.3,1020.8 2240.2,1021.7 2227,1022 2213.8,1021.7 2200.7,1020.8 2187.8,1019.4 2175.4,1017.4 2163.4,1014.8 2152.1,1011.7 2141.5,1008.2 2131.7,1004.2 2122.9,999.8 2115,995 2108.3,989.9 2102.8,984.5 2098.4,978.9 2095.3,973.1 2093.5,967.2" fill="none" stroke="#000" stroke-width="7" stroke-linecap="round" stroke-linejoin="round" />
<path d="M2150.5 970.5h9v9h-9zM2150.5 993.5h9v9h-9zM2210.5 970.5h9v9h-9zM2210.5 993.5h9v9h-9zM2277.5 970.5h9v9h-9zM2277.5 993.5h9v9h-9zM2320.5 977.5h9v9h-9zM2320.5 1017.5h9v9h-9zM2105.5 990.5h9v9h-9zM2105.5 1017.5h9v9h-9zM2210.5 1030.5h9v9h-9zM2047.5 997.5h9v9h-9zM2380.5 988.5h9v9h-9zM2150.5 947.5h9v9h-9zM2210.5 945.5h9v9h-9zM2277.5 947.5h9v9h-9z" fill="#000"/>
<path d="M2055.9 970.6h7v7h-7zM2068.5 965.7h7v7h-7zM2084.1 961.3h7v7h-7zM2102.5 957.3h7v7h-7zM2123.2 954h7v7h-7zM2145.9 951.2h7v7h-7zM2170.1 949.2h7v7h-7zM2195.4 948h7v7h-7zM2221.3 947.5h7v7h-7zM2247.2 947.8h7v7h-7zM2272.6 948.9h7v7h-7zM2297.2 950.7h7v7h-7zM2320.3 953.2h7v7h-7zM2341.6 956.4h7v7h-7zM2360.5 960.2h7v7h-7zM2376.9 964.6h7v7h-7zM2390.2 969.3h7v7h-7z" fill="#000"/>
<polygon points="2226,1075 2250,1072 2275,1118 2282,1112 2262,1138 2236,1135 2246,1128" fill="#6a6a6a" stroke="#000" stroke-width="3" stroke-linejoin="miter" />
<polygon points="2196,1268 2222,1240 2232,1250 2258,1300 2240,1310 2218,1262 2208,1276" fill="#6a6a6a" stroke="#000" stroke-width="3" stroke-linejoin="miter" />
<polyline points="2185,1300 2240,1250" fill="none" stroke="#000" stroke-width="4" stroke-linecap="round" stroke-linejoin="round" />
<polygon points="2224,1428 2246,1422 2274,1468 2282,1462 2262,1492 2234,1490 2246,1482" fill="#6a6a6a" stroke="#000" stroke-width="3" stroke-linejoin="miter" />
</g>
<g id="c18">
<path d="M580 2182 L580.9 2176.5 L583.5 2171 L587.8 2165.6 L593.8 2160.4 L601.4 2155.5 L610.6 2150.8 L621.1 2146.5 L632.9 2142.6 L646 2139.1 L660 2136.1 L674.9 2133.6 L690.6 2131.6 L706.7 2130.2 L723.3 2129.3 L740 2129 L756.7 2129.3 L773.3 2130.2 L789.4 2131.6 L805.1 2133.6 L820 2136.1 L834 2139.1 L847.1 2142.6 L858.9 2146.5 L869.4 2150.8 L878.6 2155.5 L886.2 2160.4 L892.2 2165.6 L896.5 2171 L899.1 2176.5 L900 2182 L900 2662 L899.1 2667.2 L896.5 2672.4 L892.2 2677.5 L886.2 2682.3 L878.6 2687 L869.4 2691.4 L858.9 2695.5 L847.1 2699.2 L834 2702.5 L820 2705.3 L805.1 2707.7 L789.4 2709.6 L773.3 2710.9 L756.7 2711.7 L740 2712 L723.3 2711.7 L706.7 2710.9 L690.6 2709.6 L674.9 2707.7 L660 2705.3 L646 2702.5 L632.9 2699.2 L621.1 2695.5 L610.6 2691.4 L601.4 2687 L593.8 2682.3 L587.8 2677.5 L583.5 2672.4 L580.9 2667.2 L580 2662Z" fill="#000"/>
<path d="M589 2192 L589.8 2186.7 L592.3 2181.4 L596.4 2176.2 L602.1 2171.3 L609.2 2166.5 L617.8 2162 L627.8 2157.9 L639 2154.1 L651.2 2150.7 L664.5 2147.8 L678.6 2145.4 L693.3 2143.5 L708.6 2142.1 L724.2 2141.3 L740 2141 L755.8 2141.3 L771.4 2142.1 L786.7 2143.5 L801.4 2145.4 L815.5 2147.8 L828.8 2150.7 L841 2154.1 L852.2 2157.9 L862.2 2162 L870.8 2166.5 L877.9 2171.3 L883.6 2176.2 L887.7 2181.4 L890.2 2186.7 L891 2192 L891 2196.3 L871 2197.9 L851 2198.9 L831 2199.7 L811 2200.2 L791 2200.6 L771 2200.9 L751 2201 L731 2201 L711 2200.9 L691 2200.6 L671 2200.3 L651 2199.8 L631 2199 L611 2198 L591 2196.5Z" fill="#a4a4a4"/>
<g fill="#fff">
<path d="M636 2208.2h9v8h-9zM658 2209.4h9v8h-9zM680 2210.2h9v8h-9zM702 2210.7h9v8h-9zM724 2211h9v8h-9zM746 2211h9v8h-9zM768 2210.7h9v8h-9zM790 2210.2h9v8h-9zM812 2209.4h9v8h-9zM834 2208.3h9v8h-9z"/>
</g>
<polygon points="600,2218.2 620,2220.9 640,2222.9 660,2224.3 680,2225.3 700,2226 720,2226.4 740,2226.5 760,2226.4 780,2226 800,2225.3 820,2224.3 840,2222.9 860,2220.9 880,2218.2 880,2233.2 860,2235.9 840,2237.9 820,2239.3 800,2240.3 780,2241 760,2241.4 740,2241.5 720,2241.4 700,2241 680,2240.3 660,2239.3 640,2237.9 620,2235.9 600,2233.2" fill="#fff" />
<path d="M645.5 2231.1h9v9h-9zM667.5 2232.4h9v9h-9zM689.5 2233.3h9v9h-9zM711.5 2233.8h9v9h-9zM733.5 2234h9v9h-9zM755.5 2233.9h9v9h-9zM777.5 2233.4h9v9h-9zM799.5 2232.6h9v9h-9zM821.5 2231.4h9v9h-9zM843.5 2229.7h9v9h-9z" fill="#000"/>
<polygon points="598,2242.1 618.3,2245.4 638.6,2247.7 658.9,2249.4 679.1,2250.6 699.4,2251.4 719.7,2251.8 740,2252 760.3,2251.8 780.6,2251.4 800.9,2250.6 821.1,2249.4 841.4,2247.7 861.7,2245.4 882,2242.1 882,2246.1 861.7,2249.4 841.4,2251.7 821.1,2253.4 800.9,2254.6 780.6,2255.4 760.3,2255.8 740,2256 719.7,2255.8 699.4,2255.4 679.1,2254.6 658.9,2253.4 638.6,2251.7 618.3,2249.4 598,2246.1" fill="#fff" />
<polygon points="598,2253.3 618.3,2257.2 638.6,2259.9 658.9,2261.9 679.1,2263.3 699.4,2264.3 719.7,2264.8 740,2265 760.3,2264.8 780.6,2264.3 800.9,2263.3 821.1,2261.9 841.4,2259.9 861.7,2257.2 882,2253.3 882,2257.3 861.7,2261.2 841.4,2263.9 821.1,2265.9 800.9,2267.3 780.6,2268.3 760.3,2268.8 740,2269 719.7,2268.8 699.4,2268.3 679.1,2267.3 658.9,2265.9 638.6,2263.9 618.3,2261.2 598,2257.3" fill="#b0b0b0" />
<polygon points="598,2264.5 618.3,2269 638.6,2272.2 658.9,2274.4 679.1,2276.1 699.4,2277.2 719.7,2277.8 740,2278 760.3,2277.8 780.6,2277.2 800.9,2276.1 821.1,2274.4 841.4,2272.2 861.7,2269 882,2264.5 882,2268.5 861.7,2273 841.4,2276.2 821.1,2278.4 800.9,2280.1 780.6,2281.2 760.3,2281.8 740,2282 719.7,2281.8 699.4,2281.2 679.1,2280.1 658.9,2278.4 638.6,2276.2 618.3,2273 598,2268.5" fill="#fff" />
<polygon points="598,2276.2 618.3,2281.2 638.6,2284.6 658.9,2287.1 679.1,2288.9 699.4,2290.1 719.7,2290.8 740,2291 760.3,2290.8 780.6,2290.1 800.9,2288.9 821.1,2287.1 841.4,2284.6 861.7,2281.2 882,2276.2 882,2280.2 861.7,2285.2 841.4,2288.6 821.1,2291.1 800.9,2292.9 780.6,2294.1 760.3,2294.8 740,2295 719.7,2294.8 699.4,2294.1 679.1,2292.9 658.9,2291.1 638.6,2288.6 618.3,2285.2 598,2280.2" fill="#e0e0e0" />
<polygon points="594,2287 614.9,2294.3 635.7,2299.1 656.6,2302.6 677.4,2305 698.3,2306.7 719.1,2307.7 740,2308 760.9,2307.7 781.7,2306.7 802.6,2305 823.4,2302.6 844.3,2299.1 865.1,2294.3 886,2287 886,2317 865.1,2324.3 844.3,2329.1 823.4,2332.6 802.6,2335 781.7,2336.7 760.9,2337.7 740,2338 719.1,2337.7 698.3,2336.7 677.4,2335 656.6,2332.6 635.7,2329.1 614.9,2324.3 594,2317" fill="#fff" />
<path d="M607 2303.5h10v10h-10zM628 2308.6h10v10h-10zM649 2312.2h10v10h-10zM670 2314.8h10v10h-10zM691 2316.6h10v10h-10zM712 2317.6h10v10h-10zM733 2318h10v10h-10zM754 2317.7h10v10h-10zM775 2316.8h10v10h-10zM796 2315.2h10v10h-10zM817 2312.8h10v10h-10zM838 2309.4h10v10h-10zM859 2304.6h10v10h-10z" fill="#000"/>
<polygon points="592,2325.4 613.1,2333.7 634.3,2339.1 655.4,2343 676.6,2345.7 697.7,2347.6 718.9,2348.6 740,2349 761.1,2348.6 782.3,2347.6 803.4,2345.7 824.6,2343 845.7,2339.1 866.9,2333.7 888,2325.4 888,2339.4 866.9,2347.7 845.7,2353.1 824.6,2357 803.4,2359.7 782.3,2361.6 761.1,2362.6 740,2363 718.9,2362.6 697.7,2361.6 676.6,2359.7 655.4,2357 634.3,2353.1 613.1,2347.7 592,2339.4" fill="url(#gs18)" />
<polygon points="592,2346.7 613.1,2356 634.3,2362 655.4,2366.3 676.6,2369.4 697.7,2371.4 718.9,2372.6 740,2373 761.1,2372.6 782.3,2371.4 803.4,2369.4 824.6,2366.3 845.7,2362 866.9,2356 888,2346.7 888,2360.7 866.9,2370 845.7,2376 824.6,2380.3 803.4,2383.4 782.3,2385.4 761.1,2386.6 740,2387 718.9,2386.6 697.7,2385.4 676.6,2383.4 655.4,2380.3 634.3,2376 613.1,2370 592,2360.7" fill="url(#gs18)" />
<polygon points="592,2369.8 613.1,2379.3 634.3,2385.6 655.4,2390.1 676.6,2393.2 697.7,2395.4 718.9,2396.6 740,2397 761.1,2396.6 782.3,2395.4 803.4,2393.2 824.6,2390.1 845.7,2385.6 866.9,2379.3 888,2369.8 888,2383.8 866.9,2393.3 845.7,2399.6 824.6,2404.1 803.4,2407.2 782.3,2409.4 761.1,2410.6 740,2411 718.9,2410.6 697.7,2409.4 676.6,2407.2 655.4,2404.1 634.3,2399.6 613.1,2393.3 592,2383.8" fill="url(#gs18)" />
<polygon points="592,2392.8 613.1,2402.7 634.3,2409.2 655.4,2413.8 676.6,2417.1 697.7,2419.3 718.9,2420.6 740,2421 761.1,2420.6 782.3,2419.3 803.4,2417.1 824.6,2413.8 845.7,2409.2 866.9,2402.7 888,2392.8 888,2406.8 866.9,2416.7 845.7,2423.2 824.6,2427.8 803.4,2431.1 782.3,2433.3 761.1,2434.6 740,2435 718.9,2434.6 697.7,2433.3 676.6,2431.1 655.4,2427.8 634.3,2423.2 613.1,2416.7 592,2406.8" fill="url(#gs18)" />
<polygon points="592,2415.9 613.1,2426.1 634.3,2432.8 655.4,2437.6 676.6,2441 697.7,2443.2 718.9,2444.6 740,2445 761.1,2444.6 782.3,2443.2 803.4,2441 824.6,2437.6 845.7,2432.8 866.9,2426.1 888,2415.9 888,2429.9 866.9,2440.1 845.7,2446.8 824.6,2451.6 803.4,2455 782.3,2457.2 761.1,2458.6 740,2459 718.9,2458.6 697.7,2457.2 676.6,2455 655.4,2451.6 634.3,2446.8 613.1,2440.1 592,2429.9" fill="url(#gs18)" />
<polygon points="592,2440.8 613.1,2451.4 634.3,2458.4 655.4,2463.3 676.6,2466.8 697.7,2469.2 718.9,2470.6 740,2471 761.1,2470.6 782.3,2469.2 803.4,2466.8 824.6,2463.3 845.7,2458.4 866.9,2451.4 888,2440.8 888,2454.8 866.9,2465.4 845.7,2472.4 824.6,2477.3 803.4,2480.8 782.3,2483.2 761.1,2484.6 740,2485 718.9,2484.6 697.7,2483.2 676.6,2480.8 655.4,2477.3 634.3,2472.4 613.1,2465.4 592,2454.8" fill="url(#gs18)" />
<polygon points="592,2464.8 613.1,2475.8 634.3,2483 655.4,2488.1 676.6,2491.7 697.7,2494.1 718.9,2495.5 740,2496 761.1,2495.5 782.3,2494.1 803.4,2491.7 824.6,2488.1 845.7,2483 866.9,2475.8 888,2464.8 888,2478.8 866.9,2489.8 845.7,2497 824.6,2502.1 803.4,2505.7 782.3,2508.1 761.1,2509.5 740,2510 718.9,2509.5 697.7,2508.1 676.6,2505.7 655.4,2502.1 634.3,2497 613.1,2489.8 592,2478.8" fill="url(#gs18)" />
<polygon points="592,2487.9 613.1,2499.2 634.3,2506.6 655.4,2511.8 676.6,2515.5 697.7,2518.1 718.9,2519.5 740,2520 761.1,2519.5 782.3,2518.1 803.4,2515.5 824.6,2511.8 845.7,2506.6 866.9,2499.2 888,2487.9 888,2501.9 866.9,2513.2 845.7,2520.6 824.6,2525.8 803.4,2529.5 782.3,2532.1 761.1,2533.5 740,2534 718.9,2533.5 697.7,2532.1 676.6,2529.5 655.4,2525.8 634.3,2520.6 613.1,2513.2 592,2501.9" fill="url(#gs18)" />
<polygon points="592,2510.9 613.1,2522.5 634.3,2530.2 655.4,2535.6 676.6,2539.4 697.7,2542 718.9,2543.5 740,2544 761.1,2543.5 782.3,2542 803.4,2539.4 824.6,2535.6 845.7,2530.2 866.9,2522.5 888,2510.9 888,2524.9 866.9,2536.5 845.7,2544.2 824.6,2549.6 803.4,2553.4 782.3,2556 761.1,2557.5 740,2558 718.9,2557.5 697.7,2556 676.6,2553.4 655.4,2549.6 634.3,2544.2 613.1,2536.5 592,2524.9" fill="url(#gs18)" />
<polygon points="592,2535.9 613.1,2547.9 634.3,2555.7 655.4,2561.3 676.6,2565.3 697.7,2567.9 718.9,2569.5 740,2570 761.1,2569.5 782.3,2567.9 803.4,2565.3 824.6,2561.3 845.7,2555.7 866.9,2547.9 888,2535.9 888,2549.9 866.9,2561.9 845.7,2569.7 824.6,2575.3 803.4,2579.3 782.3,2581.9 761.1,2583.5 740,2584 718.9,2583.5 697.7,2581.9 676.6,2579.3 655.4,2575.3 634.3,2569.7 613.1,2561.9 592,2549.9" fill="url(#gs18)" />
<polygon points="598,2570.1 618.4,2580.2 638.9,2587.2 659.3,2592.2 679.7,2595.8 700.1,2598.2 720.6,2599.6 741,2600 761.4,2599.5 781.9,2598 802.3,2595.5 822.7,2591.8 843.1,2586.6 863.6,2579.4 884,2568.8 884,2584.8 863.6,2595.4 843.1,2602.6 822.7,2607.8 802.3,2611.5 781.9,2614 761.4,2615.5 741,2616 720.6,2615.6 700.1,2614.2 679.7,2611.8 659.3,2608.2 638.9,2603.2 618.4,2596.2 598,2586.1" fill="#fff" />
<path d="M635.5 2596h9v9h-9zM659.5 2601.6h9v9h-9zM683.5 2605.4h9v9h-9zM707.5 2607.6h9v9h-9zM731.5 2608.5h9v9h-9zM755.5 2608h9v9h-9zM779.5 2606.3h9v9h-9zM803.5 2603.1h9v9h-9zM827.5 2598.1h9v9h-9z" fill="#000"/>
<polygon points="600,2604.6 620,2614.2 640,2620.9 660,2625.8 680,2629.3 700,2631.7 720,2633 740,2633.5 760,2633 780,2631.7 800,2629.3 820,2625.8 840,2620.9 860,2614.2 880,2604.6 880,2609.6 860,2619.2 840,2625.9 820,2630.8 800,2634.3 780,2636.7 760,2638 740,2638.5 720,2638 700,2636.7 680,2634.3 660,2630.8 640,2625.9 620,2619.2 600,2609.6" fill="#fff" />
<polygon points="600,2620.9 620,2630.4 640,2637 660,2641.8 680,2645.3 700,2647.7 720,2649 740,2649.5 760,2649 780,2647.7 800,2645.3 820,2641.8 840,2637 860,2630.4 880,2620.9 880,2625.9 860,2635.4 840,2642 820,2646.8 800,2650.3 780,2652.7 760,2654 740,2654.5 720,2654 700,2652.7 680,2650.3 660,2646.8 640,2642 620,2635.4 600,2625.9" fill="#e0e0e0" />
<polygon points="600,2637.1 620,2646.6 640,2653.1 660,2657.9 680,2661.4 700,2663.7 720,2665.1 740,2665.5 760,2665.1 780,2663.7 800,2661.4 820,2657.9 840,2653.1 860,2646.6 880,2637.1 880,2642.1 860,2651.6 840,2658.1 820,2662.9 800,2666.4 780,2668.7 760,2670.1 740,2670.5 720,2670.1 700,2668.7 680,2666.4 660,2662.9 640,2658.1 620,2651.6 600,2642.1" fill="#fff" />
<polygon points="606,2659.6 625.1,2666.9 644.3,2672.3 663.4,2676.2 682.6,2679 701.7,2681 720.9,2682.1 740,2682.5 759.1,2682.1 778.3,2681 797.4,2679 816.6,2676.2 835.7,2672.3 854.9,2666.9 874,2659.6 874,2674.6 854.9,2681.9 835.7,2687.3 816.6,2691.2 797.4,2694 778.3,2696 759.1,2697.1 740,2697.5 720.9,2697.1 701.7,2696 682.6,2694 663.4,2691.2 644.3,2687.3 625.1,2681.9 606,2674.6" fill="#8e8e8e" />
<polygon points="745,2203 768,2229 756,2229 756,2268 734,2268 734,2229 722,2229" fill="#777" stroke="#222" stroke-width="2" stroke-linejoin="miter" />
<rect x="736" y="2408" width="21" height="58" fill="#808080" stroke="#000" stroke-width="3" />
<polygon points="724,2466 770,2466 748,2508" fill="#999" stroke="#000" stroke-width="3" stroke-linejoin="miter" />
<polyline points="680,2400 748,2372" fill="none" stroke="#000" stroke-width="3" stroke-linecap="round" stroke-linejoin="round" />
<rect x="740" y="2680" width="22" height="58" fill="#777" stroke="#000" stroke-width="4" />
<rect x="742" y="2726" width="18" height="4" fill="#fff" />
</g>
<g id="c22">
<path d="M1847 2138 L1847.9 2131.8 L1850.5 2125.7 L1854.8 2119.8 L1860.8 2114 L1868.4 2108.5 L1877.6 2103.3 L1888.1 2098.5 L1899.9 2094.2 L1913 2090.3 L1927 2086.9 L1941.9 2084.1 L1957.6 2081.9 L1973.7 2080.3 L1990.3 2079.3 L2007 2079 L2023.7 2079.3 L2040.3 2080.3 L2056.4 2081.9 L2072.1 2084.1 L2087 2086.9 L2101 2090.3 L2114.1 2094.2 L2125.9 2098.5 L2136.4 2103.3 L2145.6 2108.5 L2153.2 2114 L2159.2 2119.8 L2163.5 2125.7 L2166.1 2131.8 L2167 2138 L2167 2608 L2166.1 2613.5 L2163.5 2619 L2159.2 2624.4 L2153.2 2629.6 L2145.6 2634.5 L2136.4 2639.2 L2125.9 2643.5 L2114.1 2647.4 L2101 2650.9 L2087 2653.9 L2072.1 2656.4 L2056.4 2658.4 L2040.3 2659.8 L2023.7 2660.7 L2007 2661 L1990.3 2660.7 L1973.7 2659.8 L1957.6 2658.4 L1941.9 2656.4 L1927 2653.9 L1913 2650.9 L1899.9 2647.4 L1888.1 2643.5 L1877.6 2639.2 L1868.4 2634.5 L1860.8 2629.6 L1854.8 2624.4 L1850.5 2619 L1847.9 2613.5 L1847 2608Z" fill="#000"/>
<polyline points="1857.8,2135.7 1860.1,2130.7 1863.7,2125.9 1868.7,2121.2 1875.1,2116.7 1882.6,2112.5 1891.4,2108.5 1901.3,2104.8 1912.2,2101.5 1924,2098.5 1936.6,2096 1949.8,2093.8 1963.6,2092.2 1977.9,2091 1992.4,2090.2 2007,2090 2021.6,2090.2 2036.1,2091 2050.4,2092.2 2064.2,2093.8 2077.4,2096 2090,2098.5 2101.8,2101.5 2112.7,2104.8 2122.6,2108.5 2131.4,2112.5 2138.9,2116.7 2145.3,2121.2 2150.3,2125.9 2153.9,2130.7 2156.2,2135.7" fill="none" stroke="#fff" stroke-width="5" stroke-linecap="round" stroke-linejoin="round" />
<path d="M1857 2134 Q2007 2076 2159 2132 Q2007 2196 1857 2134Z" fill="#fff"/>
<path d="M1903 2122.6h10v10h-10zM1924 2119h10v10h-10zM1945 2116.5h10v10h-10zM1966 2115h10v10h-10zM1987 2114.2h10v10h-10zM2008 2114h10v10h-10zM2029 2114.5h10v10h-10zM2050 2115.8h10v10h-10zM2071 2117.8h10v10h-10zM2092 2120.9h10v10h-10zM2113 2125.6h10v10h-10zM1945 2138.1h10v10h-10zM1966 2137.4h10v10h-10zM1987 2137.1h10v10h-10zM2008 2137h10v10h-10zM2029 2137.2h10v10h-10zM2050 2137.7h10v10h-10zM2071 2138.7h10v10h-10z" fill="#000"/>
<polygon points="1859,2150.6 1880.1,2156.3 1901.3,2160.1 1922.4,2162.8 1943.6,2164.7 1964.7,2166 1985.9,2166.8 2007,2167 2028.1,2166.8 2049.3,2166 2070.4,2164.7 2091.6,2162.8 2112.7,2160.1 2133.9,2156.3 2155,2150.6 2155,2156.6 2133.9,2162.3 2112.7,2166.1 2091.6,2168.8 2070.4,2170.7 2049.3,2172 2028.1,2172.8 2007,2173 1985.9,2172.8 1964.7,2172 1943.6,2170.7 1922.4,2168.8 1901.3,2166.1 1880.1,2162.3 1859,2156.6" fill="#fff" />
<polygon points="1859,2164.1 1880.1,2170.7 1901.3,2175.1 1922.4,2178.2 1943.6,2180.4 1964.7,2181.9 1985.9,2182.7 2007,2183 2028.1,2182.7 2049.3,2181.9 2070.4,2180.4 2091.6,2178.2 2112.7,2175.1 2133.9,2170.7 2155,2164.1 2155,2178.1 2133.9,2184.7 2112.7,2189.1 2091.6,2192.2 2070.4,2194.4 2049.3,2195.9 2028.1,2196.7 2007,2197 1985.9,2196.7 1964.7,2195.9 1943.6,2194.4 1922.4,2192.2 1901.3,2189.1 1880.1,2184.7 1859,2178.1" fill="url(#gs22)" />
<polygon points="1859,2185.1 1880.1,2192.8 1901.3,2197.8 1922.4,2201.4 1943.6,2204 1964.7,2205.7 1985.9,2206.7 2007,2207 2028.1,2206.7 2049.3,2205.7 2070.4,2204 2091.6,2201.4 2112.7,2197.8 2133.9,2192.8 2155,2185.1 2155,2199.1 2133.9,2206.8 2112.7,2211.8 2091.6,2215.4 2070.4,2218 2049.3,2219.7 2028.1,2220.7 2007,2221 1985.9,2220.7 1964.7,2219.7 1943.6,2218 1922.4,2215.4 1901.3,2211.8 1880.1,2206.8 1859,2199.1" fill="url(#gs22)" />
<polygon points="1859,2206.1 1880.1,2214.9 1901.3,2220.6 1922.4,2224.7 1943.6,2227.6 1964.7,2229.5 1985.9,2230.6 2007,2231 2028.1,2230.6 2049.3,2229.5 2070.4,2227.6 2091.6,2224.7 2112.7,2220.6 2133.9,2214.9 2155,2206.1 2155,2220.1 2133.9,2228.9 2112.7,2234.6 2091.6,2238.7 2070.4,2241.6 2049.3,2243.5 2028.1,2244.6 2007,2245 1985.9,2244.6 1964.7,2243.5 1943.6,2241.6 1922.4,2238.7 1901.3,2234.6 1880.1,2228.9 1859,2220.1" fill="url(#gs22)" />
<polygon points="1859,2227.1 1880.1,2236.9 1901.3,2243.3 1922.4,2247.9 1943.6,2251.1 1964.7,2253.3 1985.9,2254.6 2007,2255 2028.1,2254.6 2049.3,2253.3 2070.4,2251.1 2091.6,2247.9 2112.7,2243.3 2133.9,2236.9 2155,2227.1 2155,2241.1 2133.9,2250.9 2112.7,2257.3 2091.6,2261.9 2070.4,2265.1 2049.3,2267.3 2028.1,2268.6 2007,2269 1985.9,2268.6 1964.7,2267.3 1943.6,2265.1 1922.4,2261.9 1901.3,2257.3 1880.1,2250.9 1859,2241.1" fill="url(#gs22)" />
<polygon points="1859,2249.4 1880.1,2259.8 1901.3,2266.6 1922.4,2271.5 1943.6,2274.9 1964.7,2277.2 1985.9,2278.6 2007,2279 2028.1,2278.6 2049.3,2277.2 2070.4,2274.9 2091.6,2271.5 2112.7,2266.6 2133.9,2259.8 2155,2249.4 2155,2263.4 2133.9,2273.8 2112.7,2280.6 2091.6,2285.5 2070.4,2288.9 2049.3,2291.2 2028.1,2292.6 2007,2293 1985.9,2292.6 1964.7,2291.2 1943.6,2288.9 1922.4,2285.5 1901.3,2280.6 1880.1,2273.8 1859,2263.4" fill="url(#gs22)" />
<polygon points="1859,2276.5 1880.1,2286.1 1901.3,2292.5 1922.4,2297 1943.6,2300.2 1964.7,2302.3 1985.9,2303.6 2007,2304 2028.1,2303.6 2049.3,2302.3 2070.4,2300.2 2091.6,2297 2112.7,2292.5 2133.9,2286.1 2155,2276.5 2155,2290.5 2133.9,2300.1 2112.7,2306.5 2091.6,2311 2070.4,2314.2 2049.3,2316.3 2028.1,2317.6 2007,2318 1985.9,2317.6 1964.7,2316.3 1943.6,2314.2 1922.4,2311 1901.3,2306.5 1880.1,2300.1 1859,2290.5" fill="url(#gs22)" />
<polygon points="1859,2303.5 1880.1,2312.5 1901.3,2318.3 1922.4,2322.5 1943.6,2325.5 1964.7,2327.5 1985.9,2328.6 2007,2329 2028.1,2328.6 2049.3,2327.5 2070.4,2325.5 2091.6,2322.5 2112.7,2318.3 2133.9,2312.5 2155,2303.5 2155,2317.5 2133.9,2326.5 2112.7,2332.3 2091.6,2336.5 2070.4,2339.5 2049.3,2341.5 2028.1,2342.6 2007,2343 1985.9,2342.6 1964.7,2341.5 1943.6,2339.5 1922.4,2336.5 1901.3,2332.3 1880.1,2326.5 1859,2317.5" fill="url(#gs22)" />
<polygon points="1859,2329.5 1880.1,2337.7 1901.3,2343.2 1922.4,2347 1943.6,2349.7 1964.7,2351.6 1985.9,2352.6 2007,2353 2028.1,2352.6 2049.3,2351.6 2070.4,2349.7 2091.6,2347 2112.7,2343.2 2133.9,2337.7 2155,2329.5 2155,2343.5 2133.9,2351.7 2112.7,2357.2 2091.6,2361 2070.4,2363.7 2049.3,2365.6 2028.1,2366.6 2007,2367 1985.9,2366.6 1964.7,2365.6 1943.6,2363.7 1922.4,2361 1901.3,2357.2 1880.1,2351.7 1859,2343.5" fill="url(#gs22)" />
<polygon points="1862,2369.5 1882.7,2375.9 1903.4,2380.1 1924.1,2383.2 1944.9,2385.4 1965.6,2386.9 1986.3,2387.7 2007,2388 2027.7,2387.7 2048.4,2386.9 2069.1,2385.4 2089.9,2383.2 2110.6,2380.1 2131.3,2375.9 2152,2369.5 2152,2389.5 2131.3,2395.9 2110.6,2400.1 2089.9,2403.2 2069.1,2405.4 2048.4,2406.9 2027.7,2407.7 2007,2408 1986.3,2407.7 1965.6,2406.9 1944.9,2405.4 1924.1,2403.2 1903.4,2400.1 1882.7,2395.9 1862,2389.5" fill="#fff" />
<path d="M1885.5 2376.5h9v9h-9zM1907.5 2380.5h9v9h-9zM1929.5 2383.3h9v9h-9zM1951.5 2385.3h9v9h-9zM1973.5 2386.4h9v9h-9zM1995.5 2387h9v9h-9zM2017.5 2386.9h9v9h-9zM2039.5 2386.1h9v9h-9zM2061.5 2384.6h9v9h-9zM2083.5 2382.4h9v9h-9zM2105.5 2379.2h9v9h-9z" fill="#000"/>
<polygon points="1862,2400.6 1882.7,2406.5 1903.4,2410.6 1924.1,2413.5 1944.9,2415.5 1965.6,2416.9 1986.3,2417.7 2007,2418 2027.7,2417.7 2048.4,2416.9 2069.1,2415.5 2089.9,2413.5 2110.6,2410.6 2131.3,2406.5 2152,2400.6 2152,2404.6 2131.3,2410.5 2110.6,2414.6 2089.9,2417.5 2069.1,2419.5 2048.4,2420.9 2027.7,2421.7 2007,2422 1986.3,2421.7 1965.6,2420.9 1944.9,2419.5 1924.1,2417.5 1903.4,2414.6 1882.7,2410.5 1862,2404.6" fill="#fff" />
<polygon points="1859,2417.4 1880.1,2423.6 1901.3,2427.6 1922.4,2430.5 1943.6,2432.6 1964.7,2433.9 1985.9,2434.7 2007,2435 2028.1,2434.7 2049.3,2433.9 2070.4,2432.6 2091.6,2430.5 2112.7,2427.6 2133.9,2423.6 2155,2417.4 2155,2435.4 2133.9,2441.6 2112.7,2445.6 2091.6,2448.5 2070.4,2450.6 2049.3,2451.9 2028.1,2452.7 2007,2453 1985.9,2452.7 1964.7,2451.9 1943.6,2450.6 1922.4,2448.5 1901.3,2445.6 1880.1,2441.6 1859,2435.4" fill="url(#gs22)" />
<polygon points="1859,2448.3 1880.1,2455.4 1901.3,2460 1922.4,2463.4 1943.6,2465.7 1964.7,2467.3 1985.9,2468.2 2007,2468.5 2028.1,2468.2 2049.3,2467.3 2070.4,2465.7 2091.6,2463.4 2112.7,2460 2133.9,2455.4 2155,2448.3 2155,2463.3 2133.9,2470.4 2112.7,2475 2091.6,2478.4 2070.4,2480.7 2049.3,2482.3 2028.1,2483.2 2007,2483.5 1985.9,2483.2 1964.7,2482.3 1943.6,2480.7 1922.4,2478.4 1901.3,2475 1880.1,2470.4 1859,2463.3" fill="url(#gs22)" />
<polygon points="1859,2472.7 1880.1,2480.5 1901.3,2485.7 1922.4,2489.3 1943.6,2491.9 1964.7,2493.7 1985.9,2494.7 2007,2495 2028.1,2494.7 2049.3,2493.7 2070.4,2491.9 2091.6,2489.3 2112.7,2485.7 2133.9,2480.5 2155,2472.7 2155,2486.7 2133.9,2494.5 2112.7,2499.7 2091.6,2503.3 2070.4,2505.9 2049.3,2507.7 2028.1,2508.7 2007,2509 1985.9,2508.7 1964.7,2507.7 1943.6,2505.9 1922.4,2503.3 1901.3,2499.7 1880.1,2494.5 1859,2486.7" fill="url(#gs22)" />
<polygon points="1859,2496.5 1880.1,2505.1 1901.3,2510.8 1922.4,2514.8 1943.6,2517.6 1964.7,2519.5 1985.9,2520.6 2007,2521 2028.1,2520.6 2049.3,2519.5 2070.4,2517.6 2091.6,2514.8 2112.7,2510.8 2133.9,2505.1 2155,2496.5 2155,2510.5 2133.9,2519.1 2112.7,2524.8 2091.6,2528.8 2070.4,2531.6 2049.3,2533.5 2028.1,2534.6 2007,2535 1985.9,2534.6 1964.7,2533.5 1943.6,2531.6 1922.4,2528.8 1901.3,2524.8 1880.1,2519.1 1859,2510.5" fill="url(#gs22)" />
<polygon points="1859,2521.2 1880.1,2530.6 1901.3,2536.8 1922.4,2541.2 1943.6,2544.3 1964.7,2546.4 1985.9,2547.6 2007,2548 2028.1,2547.6 2049.3,2546.4 2070.4,2544.3 2091.6,2541.2 2112.7,2536.8 2133.9,2530.6 2155,2521.2 2155,2535.2 2133.9,2544.6 2112.7,2550.8 2091.6,2555.2 2070.4,2558.3 2049.3,2560.4 2028.1,2561.6 2007,2562 1985.9,2561.6 1964.7,2560.4 1943.6,2558.3 1922.4,2555.2 1901.3,2550.8 1880.1,2544.6 1859,2535.2" fill="url(#gs22)" />
<polygon points="1859,2544.7 1880.1,2555.2 1901.3,2562 1922.4,2566.9 1943.6,2570.4 1964.7,2572.7 1985.9,2574.1 2007,2574.5 2028.1,2574.1 2049.3,2572.7 2070.4,2570.4 2091.6,2566.9 2112.7,2562 2133.9,2555.2 2155,2544.7 2155,2559.7 2133.9,2570.2 2112.7,2577 2091.6,2581.9 2070.4,2585.4 2049.3,2587.7 2028.1,2589.1 2007,2589.5 1985.9,2589.1 1964.7,2587.7 1943.6,2585.4 1922.4,2581.9 1901.3,2577 1880.1,2570.2 1859,2559.7" fill="url(#gs22)" />
<polygon points="1859,2569.7 1880.1,2581.2 1901.3,2588.8 1922.4,2594.1 1943.6,2597.9 1964.7,2600.5 1985.9,2602 2007,2602.5 2028.1,2602 2049.3,2600.5 2070.4,2597.9 2091.6,2594.1 2112.7,2588.8 2133.9,2581.2 2155,2569.7 2155,2584.7 2133.9,2596.2 2112.7,2603.8 2091.6,2609.1 2070.4,2612.9 2049.3,2615.5 2028.1,2617 2007,2617.5 1985.9,2617 1964.7,2615.5 1943.6,2612.9 1922.4,2609.1 1901.3,2603.8 1880.1,2596.2 1859,2584.7" fill="url(#gs22)" />
<polygon points="1873,2606.6 1892.1,2614.8 1911.3,2620.7 1930.4,2625 1949.6,2628.2 1968.7,2630.3 1987.9,2631.6 2007,2632 2026.1,2631.6 2045.3,2630.3 2064.4,2628.2 2083.6,2625 2102.7,2620.7 2121.9,2614.8 2141,2606.6 2141,2614.6 2121.9,2622.8 2102.7,2628.7 2083.6,2633 2064.4,2636.2 2045.3,2638.3 2026.1,2639.6 2007,2640 1987.9,2639.6 1968.7,2638.3 1949.6,2636.2 1930.4,2633 1911.3,2628.7 1892.1,2622.8 1873,2614.6" fill="#e8e8e8" />
<rect x="1998" y="2253" width="18" height="75" fill="#888" stroke="#000" stroke-width="3" />
<polygon points="1985,2326 2024,2326 2006,2358" fill="#999" stroke="#000" stroke-width="3" stroke-linejoin="miter" />
<polygon points="2007,2468 2030,2511 1985,2511" fill="#999" stroke="#000" stroke-width="3" stroke-linejoin="miter" />
<rect x="1998" y="2511" width="19" height="62" fill="#888" stroke="#000" stroke-width="3" />
</g>
<g id="arrows">
<polygon points="885,640 917,620 1059,852 1082,834 1080,932 1009,888 1022,878" fill="#bcbcbc" stroke="#000" stroke-width="7" stroke-linejoin="miter" />
<polygon points="1841,589 1872,620 1685,813 1704,833 1604,862 1630,760 1650,779" fill="#bcbcbc" stroke="#000" stroke-width="7" stroke-linejoin="miter" />
<polygon points="591,1188 870,1188 870,1160 949,1210 870,1262 870,1237 591,1237" fill="#c8c8c8" stroke="#000" stroke-width="9" stroke-linejoin="miter" />
<polygon points="2093,1246 1818,1246 1818,1220 1721,1272 1818,1323 1818,1296 2093,1296" fill="url(#garrD)" stroke="#000" stroke-width="9" stroke-linejoin="miter" />
<polygon points="1003,1840 914,1894 939,1907 805,2144 842,2171 976,1934 1003,1941" fill="url(#garrE)" stroke="#000" stroke-width="7" stroke-linejoin="miter" />
<polygon points="1649,1900 1741,1954 1719,1969 1846,2207 1813,2234 1674,1998 1650,2008" fill="url(#garrF)" stroke="#000" stroke-width="7" stroke-linejoin="miter" />
</g>
<g id="labels" fill="none" stroke="#000" stroke-linecap="round" stroke-linejoin="round">
<path d="M36 0 C32 30 26 70 22 100" transform="translate(1068,104) scale(0.4333,0.5200)" stroke-width="7" vector-effect="non-scaling-stroke"/>
<path d="M46 0 C14 28 4 70 20 94 C40 102 56 76 42 60 C30 50 14 62 12 76" transform="translate(1104,102) scale(0.4000,0.4400)" stroke-width="7" vector-effect="non-scaling-stroke"/>
<path d="M40 40 C26 20 2 40 6 76 C10 100 34 92 42 48 C40 84 48 100 72 84" transform="translate(1153,89) scale(0.9667,0.4800)" stroke-width="5" vector-effect="non-scaling-stroke"/>
<path d="M1041 163 L929 261" stroke-width="5"/>
<path d="M6 30 C12 2 50 -2 46 28 C42 56 18 78 4 96 C22 80 40 94 60 88" transform="translate(1148,185) scale(0.7167,0.6100)" stroke-width="6" vector-effect="non-scaling-stroke"/>
<path d="M38 0 L4 62 L60 56 M48 16 L34 100" transform="translate(1200,165) scale(0.6333,0.6200)" stroke-width="6" vector-effect="non-scaling-stroke"/>
<path d="M1107 236 L987 305" stroke-width="5"/>
<path d="M987 305 L1004 301" stroke-width="4"/>
<path d="M36 0 C32 30 26 70 22 100" transform="translate(1118,306) scale(0.5333,0.7000)" stroke-width="7" vector-effect="non-scaling-stroke"/>
<path d="M46 0 C14 28 4 70 20 94 C40 102 56 76 42 60 C30 50 14 62 12 76" transform="translate(1160,287) scale(0.6333,0.7600)" stroke-width="6" vector-effect="non-scaling-stroke"/>
<path d="M1091 363 L971 414" stroke-width="7"/>
<path d="M971 414 L1000 378" stroke-width="5"/>
<path d="M971 414 L1022 408" stroke-width="5"/>
<path d="M36 0 C32 30 26 70 22 100" transform="translate(1110,465) scale(0.5000,0.5000)" stroke-width="7" vector-effect="non-scaling-stroke"/>
<path d="M46 0 C14 28 4 70 20 94 C40 102 56 76 42 60 C30 50 14 62 12 76" transform="translate(1146,459) scale(0.5667,0.5400)" stroke-width="6" vector-effect="non-scaling-stroke"/>
<path d="M18 0 L10 94 C30 102 54 88 42 66 C32 52 14 62 12 80" transform="translate(1203,453) scale(0.6000,0.4400)" stroke-width="6" vector-effect="non-scaling-stroke"/>
<path d="M1070 512 C1020 505 990 488 942 504" stroke-width="5"/>
<path d="M1040 520 L952 508" stroke-width="2.5"/>
<path d="M6 30 C12 2 50 -2 46 28 C42 56 18 78 4 96 C22 80 40 94 60 88" transform="translate(1101,592) scale(0.9167,0.4600)" stroke-width="6" vector-effect="non-scaling-stroke"/>
<path d="M46 0 C14 28 4 70 20 94 C40 102 56 76 42 60 C30 50 14 62 12 76" transform="translate(1166,579) scale(0.5000,0.4000)" stroke-width="6" vector-effect="non-scaling-stroke"/>
<path d="M1086 605 Q1010 615 987 579" stroke-width="5"/>
<path d="M6 30 C12 2 50 -2 46 28 C42 56 18 78 4 96 C22 80 40 94 60 88" transform="translate(1623,92) rotate(-12) scale(0.8000,0.5600)" stroke-width="6" vector-effect="non-scaling-stroke"/>
<path d="M42 46 C10 30 20 2 40 4 C60 8 52 36 36 48 C8 64 10 96 30 97 C56 98 56 60 36 48" transform="translate(1676,80) rotate(-12) scale(0.7667,0.6400)" stroke-width="6" vector-effect="non-scaling-stroke"/>
<path d="M1680 231 Q1690 290 1748 326" stroke-width="3"/>
<path d="M6 30 C12 2 50 -2 46 28 C42 56 18 78 4 96 C22 80 40 94 60 88" transform="translate(2163,158) rotate(-15) scale(0.7333,0.4600)" stroke-width="8" vector-effect="non-scaling-stroke"/>
<path d="M32 4 C8 8 0 92 26 96 C56 98 60 8 32 4" transform="translate(2208,146) rotate(-10) scale(0.6667,0.4400)" stroke-width="8" vector-effect="non-scaling-stroke"/>
<path d="M40 40 C26 20 2 40 6 76 C10 100 34 92 42 48 C40 84 48 100 72 84" transform="translate(2288,132) scale(0.8333,0.3000)" stroke-width="5" vector-effect="non-scaling-stroke"/>
<path d="M2145 231 L2070 311" stroke-width="3.5"/>
<path d="M6 30 C12 2 50 -2 46 28 C42 56 18 78 4 96 C22 80 40 94 60 88" transform="translate(2228,308) rotate(-8) scale(0.8667,0.6200)" stroke-width="6" vector-effect="non-scaling-stroke"/>
<path d="M32 4 C8 8 0 92 26 96 C56 98 60 8 32 4" transform="translate(2284,298) scale(0.9000,0.6800)" stroke-width="6" vector-effect="non-scaling-stroke"/>
<path d="M2198 346 L2107 381" stroke-width="6"/>
<path d="M2107 381 L2140 352" stroke-width="4"/>
<path d="M2107 381 L2150 380" stroke-width="4"/>
<path d="M6 30 C12 2 50 -2 46 28 C42 56 18 78 4 96 C22 80 40 94 60 88" transform="translate(2183,492) rotate(-8) scale(1.0333,0.5600)" stroke-width="6" vector-effect="non-scaling-stroke"/>
<path d="M32 4 C8 8 0 92 26 96 C56 98 60 8 32 4" transform="translate(2252,497) scale(0.6000,0.4200)" stroke-width="6" vector-effect="non-scaling-stroke"/>
<path d="M46 0 C14 28 4 70 20 94 C40 102 56 76 42 60 C30 50 14 62 12 76" transform="translate(2296,477) scale(0.7667,0.6800)" stroke-width="6" vector-effect="non-scaling-stroke"/>
<path d="M2158 535 L2072 545" stroke-width="5"/>
<path d="M8 12 C26 -4 58 4 32 44 C64 44 60 98 6 92" transform="translate(2317,615) scale(0.7833,0.5600)" stroke-width="6" vector-effect="non-scaling-stroke"/>
<path d="M42 46 C10 30 20 2 40 4 C60 8 52 36 36 48 C8 64 10 96 30 97 C56 98 56 60 36 48" transform="translate(2376,597) scale(0.6667,0.6200)" stroke-width="6" vector-effect="non-scaling-stroke"/>
<path d="M2354 703 C2345 770 2330 840 2297 925" stroke-width="5"/>
<path d="M2297 925 Q2282 990 2268 1040" stroke-width="3"/>
<path d="M8 12 C26 -4 58 4 32 44 C64 44 60 98 6 92" transform="translate(1516,362) rotate(-8) scale(0.9667,0.6800)" stroke-width="6" vector-effect="non-scaling-stroke"/>
<path d="M32 4 C8 8 0 92 26 96 C56 98 60 8 32 4" transform="translate(1580,360) scale(0.5333,0.4400)" stroke-width="6" vector-effect="non-scaling-stroke"/>
<path d="M1592 452 Q1610 500 1749 515" stroke-width="4"/>
<path d="M8 12 C26 -4 58 4 32 44 C64 44 60 98 6 92" transform="translate(124,864) rotate(-8) scale(0.8667,0.5200)" stroke-width="6" vector-effect="non-scaling-stroke"/>
<path d="M6 30 C12 2 50 -2 46 28 C42 56 18 78 4 96 C22 80 40 94 60 88" transform="translate(178,852) rotate(-8) scale(1.0667,0.5000)" stroke-width="6" vector-effect="non-scaling-stroke"/>
<path d="M155 937 Q175 1010 231 1113" stroke-width="5"/>
<path d="M36 0 C32 30 26 70 22 100" transform="translate(742,948) scale(0.3000,0.4800)" stroke-width="7" vector-effect="non-scaling-stroke"/>
<path d="M6 30 C12 2 50 -2 46 28 C42 56 18 78 4 96 C22 80 40 94 60 88" transform="translate(768,940) rotate(-8) scale(0.7333,0.4400)" stroke-width="7" vector-effect="non-scaling-stroke"/>
<path d="M40 40 C26 20 2 40 6 76 C10 100 34 92 42 48 C40 84 48 100 72 84" transform="translate(808,922) rotate(-10) scale(0.7667,0.4200)" stroke-width="6" vector-effect="non-scaling-stroke"/>
<path d="M716 1020 L674 1079" stroke-width="2.5"/>
<path d="M36 0 C32 30 26 70 22 100" transform="translate(40,1235) scale(0.4667,0.6800)" stroke-width="7" vector-effect="non-scaling-stroke"/>
<path d="M6 30 C12 2 50 -2 46 28 C42 56 18 78 4 96 C22 80 40 94 60 88" transform="translate(80,1232) scale(0.9667,0.6200)" stroke-width="6" vector-effect="non-scaling-stroke"/>
<path d="M104 1327 L190 1335" stroke-width="6"/>
<polygon points="184,1320 216,1338 186,1360 196,1338" fill="#222" />
<path d="M262 1305 Q170 1440 117 1575" stroke-width="5"/>
<path d="M8 12 C26 -4 58 4 32 44 C64 44 60 98 6 92" transform="translate(27,1635) scale(0.7000,0.6000)" stroke-width="6" vector-effect="non-scaling-stroke"/>
<path d="M46 0 C14 28 4 70 20 94 C40 102 56 76 42 60 C30 50 14 62 12 76" transform="translate(76,1629) scale(0.4500,0.5200)" stroke-width="6" vector-effect="non-scaling-stroke"/>
<path d="M255 1497 Q215 1540 190 1619" stroke-width="5"/>
<path d="M8 12 C26 -4 58 4 32 44 C64 44 60 98 6 92" transform="translate(127,1700) scale(0.8333,0.6600)" stroke-width="6" vector-effect="non-scaling-stroke"/>
<path d="M38 0 L4 62 L60 56 M48 16 L34 100" transform="translate(176,1667) scale(0.8333,0.8200)" stroke-width="6" vector-effect="non-scaling-stroke"/>
<path d="M621 1548 L661 1602" stroke-width="6"/>
<path d="M631 1546 L665 1590" stroke-width="3"/>
<path d="M36 0 C32 30 26 70 22 100" transform="translate(644,1639) scale(0.4667,0.5000)" stroke-width="7" vector-effect="non-scaling-stroke"/>
<path d="M6 30 C12 2 50 -2 46 28 C42 56 18 78 4 96 C22 80 40 94 60 88" transform="translate(668,1630) scale(0.7333,0.4400)" stroke-width="6" vector-effect="non-scaling-stroke"/>
<path d="M18 0 L10 94 C30 102 54 88 42 66 C32 52 14 62 12 80" transform="translate(715,1613) scale(0.6000,0.6000)" stroke-width="6" vector-effect="non-scaling-stroke"/>
<path d="M631 1322 C690 1315 720 1355 756 1360" stroke-width="5"/>
<path d="M640 1332 L700 1334" stroke-width="2.5"/>
<path d="M36 0 C32 30 26 70 22 100" transform="translate(750,1348) scale(0.3333,0.4700)" stroke-width="7" vector-effect="non-scaling-stroke"/>
<path d="M6 30 C12 2 50 -2 46 28 C42 56 18 78 4 96 C22 80 40 94 60 88" transform="translate(777,1346) scale(0.7000,0.4600)" stroke-width="6" vector-effect="non-scaling-stroke"/>
<path d="M48 48 C32 32 4 48 8 78 C12 100 36 98 52 82" transform="translate(818,1346) scale(0.5667,0.3800)" stroke-width="6" vector-effect="non-scaling-stroke"/>
<path d="M36 0 C32 30 26 70 22 100" transform="translate(1904,931) scale(0.4000,0.5600)" stroke-width="7" vector-effect="non-scaling-stroke"/>
<path d="M38 0 L4 62 L60 56 M48 16 L34 100" transform="translate(1926,919) scale(0.6000,0.6600)" stroke-width="6" vector-effect="non-scaling-stroke"/>
<path d="M40 40 C26 20 2 40 6 76 C10 100 34 92 42 48 C40 84 48 100 72 84" transform="translate(1973,932) scale(0.7667,0.4400)" stroke-width="6" vector-effect="non-scaling-stroke"/>
<path d="M1963 1001 Q1985 1045 2020 1068" stroke-width="5"/>
<path d="M36 0 C32 30 26 70 22 100" transform="translate(1838,1425) scale(0.5333,0.5600)" stroke-width="7" vector-effect="non-scaling-stroke"/>
<path d="M38 0 L4 62 L60 56 M48 16 L34 100" transform="translate(1876,1434) scale(0.6000,0.4600)" stroke-width="6" vector-effect="non-scaling-stroke"/>
<path d="M48 48 C32 32 4 48 8 78 C12 100 36 98 52 82" transform="translate(1922,1432) scale(0.5333,0.4200)" stroke-width="6" vector-effect="non-scaling-stroke"/>
<path d="M1919 1415 L2063 1300" stroke-width="4.5"/>
<path d="M2020 1471 Q1960 1580 1926 1682" stroke-width="4.5"/>
<path d="M38 0 L4 62 L60 56 M48 16 L34 100" transform="translate(1866,1733) scale(0.6667,0.6000)" stroke-width="6" vector-effect="non-scaling-stroke"/>
<path d="M6 30 C12 2 50 -2 46 28 C42 56 18 78 4 96 C22 80 40 94 60 88" transform="translate(1924,1729) scale(1.1333,0.6000)" stroke-width="6" vector-effect="non-scaling-stroke"/>
<path d="M2051 1616 L2129 1520" stroke-width="5"/>
<path d="M2130 1520 L2087 1538" stroke-width="4.5"/>
<path d="M2130 1520 L2123 1548" stroke-width="4.5"/>
<path d="M2042 1651 L2003 1710" stroke-width="6"/>
<path d="M2066 1649 L2044 1673 L2087 1671" stroke-width="5"/>
<path d="M2120 1618 L2090 1712" stroke-width="6"/>
<path d="M2245 1503 Q2236 1610 2223 1719" stroke-width="5"/>
<path d="M38 0 L4 62 L60 56 M48 16 L34 100" transform="translate(2219,1764) scale(0.6000,0.6800)" stroke-width="6" vector-effect="non-scaling-stroke"/>
<path d="M32 4 C8 8 0 92 26 96 C56 98 60 8 32 4" transform="translate(2264,1760) scale(0.7667,0.6400)" stroke-width="6" vector-effect="non-scaling-stroke"/>
<path d="M2344 1510 Q2380 1550 2420 1579" stroke-width="5"/>
<path d="M36 0 C32 30 26 70 22 100" transform="translate(2424,1577) scale(0.4333,0.6600)" stroke-width="7" vector-effect="non-scaling-stroke"/>
<path d="M38 0 L4 62 L60 56 M48 16 L34 100" transform="translate(2466,1581) scale(0.5667,0.7800)" stroke-width="6" vector-effect="non-scaling-stroke"/>
<path d="M18 0 L10 94 C30 102 54 88 42 66 C32 52 14 62 12 80" transform="translate(2490,1622) scale(0.2667,0.3800)" stroke-width="5" vector-effect="non-scaling-stroke"/>
<path d="M38 0 L4 62 L60 56 M48 16 L34 100" transform="translate(200,1975) scale(0.7667,0.7200)" stroke-width="6" vector-effect="non-scaling-stroke"/>
<path d="M38 0 L4 62 L60 56 M48 16 L34 100" transform="translate(266,1946) scale(0.7000,1.0500)" stroke-width="6" vector-effect="non-scaling-stroke"/>
<path d="M319 2057 C400 2090 470 2140 580 2185" stroke-width="5"/>
<path d="M410 2098 L560 2172" stroke-width="2.5"/>
<path d="M36 0 C32 30 26 70 22 100" transform="translate(965,2142) scale(0.3333,0.5200)" stroke-width="6" vector-effect="non-scaling-stroke"/>
<path d="M42 46 C10 30 20 2 40 4 C60 8 52 36 36 48 C8 64 10 96 30 97 C56 98 56 60 36 48" transform="translate(994,2115) scale(0.5667,0.7200)" stroke-width="6" vector-effect="non-scaling-stroke"/>
<path d="M40 40 C26 20 2 40 6 76 C10 100 34 92 42 48 C40 84 48 100 72 84" transform="translate(1036,2122) scale(0.8333,0.3800)" stroke-width="5" vector-effect="non-scaling-stroke"/>
<path d="M956 2200 L902 2237" stroke-width="5"/>
<path d="M36 0 C32 30 26 70 22 100" transform="translate(1014,2293) scale(0.4333,0.6000)" stroke-width="6" vector-effect="non-scaling-stroke"/>
<path d="M42 46 C10 30 20 2 40 4 C60 8 52 36 36 48 C8 64 10 96 30 97 C56 98 56 60 36 48" transform="translate(1040,2274) scale(0.6667,0.8200)" stroke-width="6" vector-effect="non-scaling-stroke"/>
<path d="M989 2332 L911 2422" stroke-width="5"/>
<path d="M911 2422 L924 2385" stroke-width="5"/>
<path d="M911 2422 L972 2393" stroke-width="5"/>
<path d="M36 0 C32 30 26 70 22 100" transform="translate(998,2448) scale(0.3667,0.6200)" stroke-width="6" vector-effect="non-scaling-stroke"/>
<path d="M42 46 C10 30 20 2 40 4 C60 8 52 36 36 48 C8 64 10 96 30 97 C56 98 56 60 36 48" transform="translate(1026,2424) scale(0.6333,0.7600)" stroke-width="6" vector-effect="non-scaling-stroke"/>
<path d="M48 48 C32 32 4 48 8 78 C12 100 36 98 52 82" transform="translate(1064,2446) scale(0.5333,0.4200)" stroke-width="6" vector-effect="non-scaling-stroke"/>
<path d="M980 2488 L905 2519" stroke-width="5"/>
<path d="M36 0 C32 30 26 70 22 100" transform="translate(1042,2546) scale(0.3333,0.6800)" stroke-width="7" vector-effect="non-scaling-stroke"/>
<path d="M42 46 C10 30 20 2 40 4 C60 8 52 36 36 48 C8 64 10 96 30 97 C56 98 56 60 36 48" transform="translate(1074,2536) scale(0.6000,0.6600)" stroke-width="6" vector-effect="non-scaling-stroke"/>
<path d="M18 0 L10 94 C30 102 54 88 42 66 C32 52 14 62 12 80" transform="translate(1138,2533) scale(0.6333,0.6200)" stroke-width="6" vector-effect="non-scaling-stroke"/>
<path d="M1011 2601 Q950 2605 911 2631" stroke-width="5"/>
<path d="M36 0 C32 30 26 70 22 100" transform="translate(1198,2332) scale(0.3000,0.4800)" stroke-width="6" vector-effect="non-scaling-stroke"/>
<path d="M32 4 C8 8 0 92 26 96 C56 98 60 8 32 4" transform="translate(1230,2323) scale(0.6667,0.4400)" stroke-width="6" vector-effect="non-scaling-stroke"/>
<path d="M1233 2271 Q1262 2150 1283 2054" stroke-width="5"/>
<path d="M1244 2240 L1280 2080" stroke-width="3"/>
<path d="M1283 2054 L1254 2113" stroke-width="5"/>
<path d="M1283 2054 L1301 2116" stroke-width="5"/>
<path d="M38 0 L4 62 L60 56 M48 16 L34 100" transform="translate(322,2556) scale(0.8000,0.8400)" stroke-width="6" vector-effect="non-scaling-stroke"/>
<path d="M42 46 C10 30 20 2 40 4 C60 8 52 36 36 48 C8 64 10 96 30 97 C56 98 56 60 36 48" transform="translate(385,2546) scale(0.6667,0.8800)" stroke-width="6" vector-effect="non-scaling-stroke"/>
<path d="M439 2562 L581 2477" stroke-width="5"/>
<path d="M460 2552 L581 2495" stroke-width="3"/>
<path d="M38 0 L4 62 L60 56 M48 16 L34 100" transform="translate(474,2896) scale(0.8333,0.6600)" stroke-width="6" vector-effect="non-scaling-stroke"/>
<path d="M46 0 C14 28 4 70 20 94 C40 102 56 76 42 60 C30 50 14 62 12 76" transform="translate(534,2902) scale(0.5333,0.6800)" stroke-width="6" vector-effect="non-scaling-stroke"/>
<path d="M734 2736 L601 2906" stroke-width="5"/>
<path d="M6 30 C12 2 50 -2 46 28 C42 56 18 78 4 96 C22 80 40 94 60 88" transform="translate(2263,2176) scale(0.6000,0.4000)" stroke-width="7" vector-effect="non-scaling-stroke"/>
<path d="M6 30 C12 2 50 -2 46 28 C42 56 18 78 4 96 C22 80 40 94 60 88" transform="translate(2300,2172) scale(0.6000,0.4000)" stroke-width="7" vector-effect="non-scaling-stroke"/>
<path d="M40 40 C26 20 2 40 6 76 C10 100 34 92 42 48 C40 84 48 100 72 84" transform="translate(2340,2166) scale(0.6667,0.3400)" stroke-width="6" vector-effect="non-scaling-stroke"/>
<path d="M2243 2218 L2168 2246" stroke-width="5"/>
<path d="M2358 2238 C2320 2232 2296 2250 2290 2268 C2310 2262 2322 2278 2310 2292 C2302 2300 2292 2298 2288 2294" stroke-width="6"/>
<path d="M32 4 C8 8 0 92 26 96 C56 98 60 8 32 4" transform="translate(2338,2261) scale(0.4333,0.3000)" stroke-width="6" vector-effect="non-scaling-stroke"/>
<path d="M2263 2298 Q2210 2312 2173 2303" stroke-width="5"/>
<path d="M6 30 C12 2 50 -2 46 28 C42 56 18 78 4 96 C22 80 40 94 60 88" transform="translate(2248,2446) scale(0.6667,0.4000)" stroke-width="7" vector-effect="non-scaling-stroke"/>
<path d="M6 30 C12 2 50 -2 46 28 C42 56 18 78 4 96 C22 80 40 94 60 88" transform="translate(2294,2440) scale(0.6667,0.4200)" stroke-width="7" vector-effect="non-scaling-stroke"/>
<path d="M18 0 L10 94 C30 102 54 88 42 66 C32 52 14 62 12 80" transform="translate(2340,2421) scale(0.6667,0.5600)" stroke-width="6" vector-effect="non-scaling-stroke"/>
<path d="M2215 2489 L2165 2509" stroke-width="4"/>
<path d="M6 30 C12 2 50 -2 46 28 C42 56 18 78 4 96 C22 80 40 94 60 88" transform="translate(1625,2612) scale(0.8000,0.4600)" stroke-width="7" vector-effect="non-scaling-stroke"/>
<path d="M6 30 C12 2 50 -2 46 28 C42 56 18 78 4 96 C22 80 40 94 60 88" transform="translate(1678,2606) scale(0.8000,0.4600)" stroke-width="7" vector-effect="non-scaling-stroke"/>
<path d="M1741 2625 L1846 2550" stroke-width="6"/>
<path d="M1846 2550 L1806 2557" stroke-width="5"/>
<path d="M1846 2550 L1833 2583" stroke-width="5"/>
<path d="M56 4 L20 8 L12 46 C38 34 62 56 42 84 C32 98 10 96 4 84" transform="translate(2223,2610) scale(0.8333,0.6200)" stroke-width="6" vector-effect="non-scaling-stroke"/>
<path d="M6 30 C12 2 50 -2 46 28 C42 56 18 78 4 96 C22 80 40 94 60 88" transform="translate(2280,2602) scale(0.8000,0.5000)" stroke-width="6" vector-effect="non-scaling-stroke"/>
<path d="M2195 2662 Q2160 2640 2127 2640" stroke-width="6"/>
<path d="M2127 2640 L2027 2562" stroke-width="4"/>
</g>
</svg>
</body></html>
